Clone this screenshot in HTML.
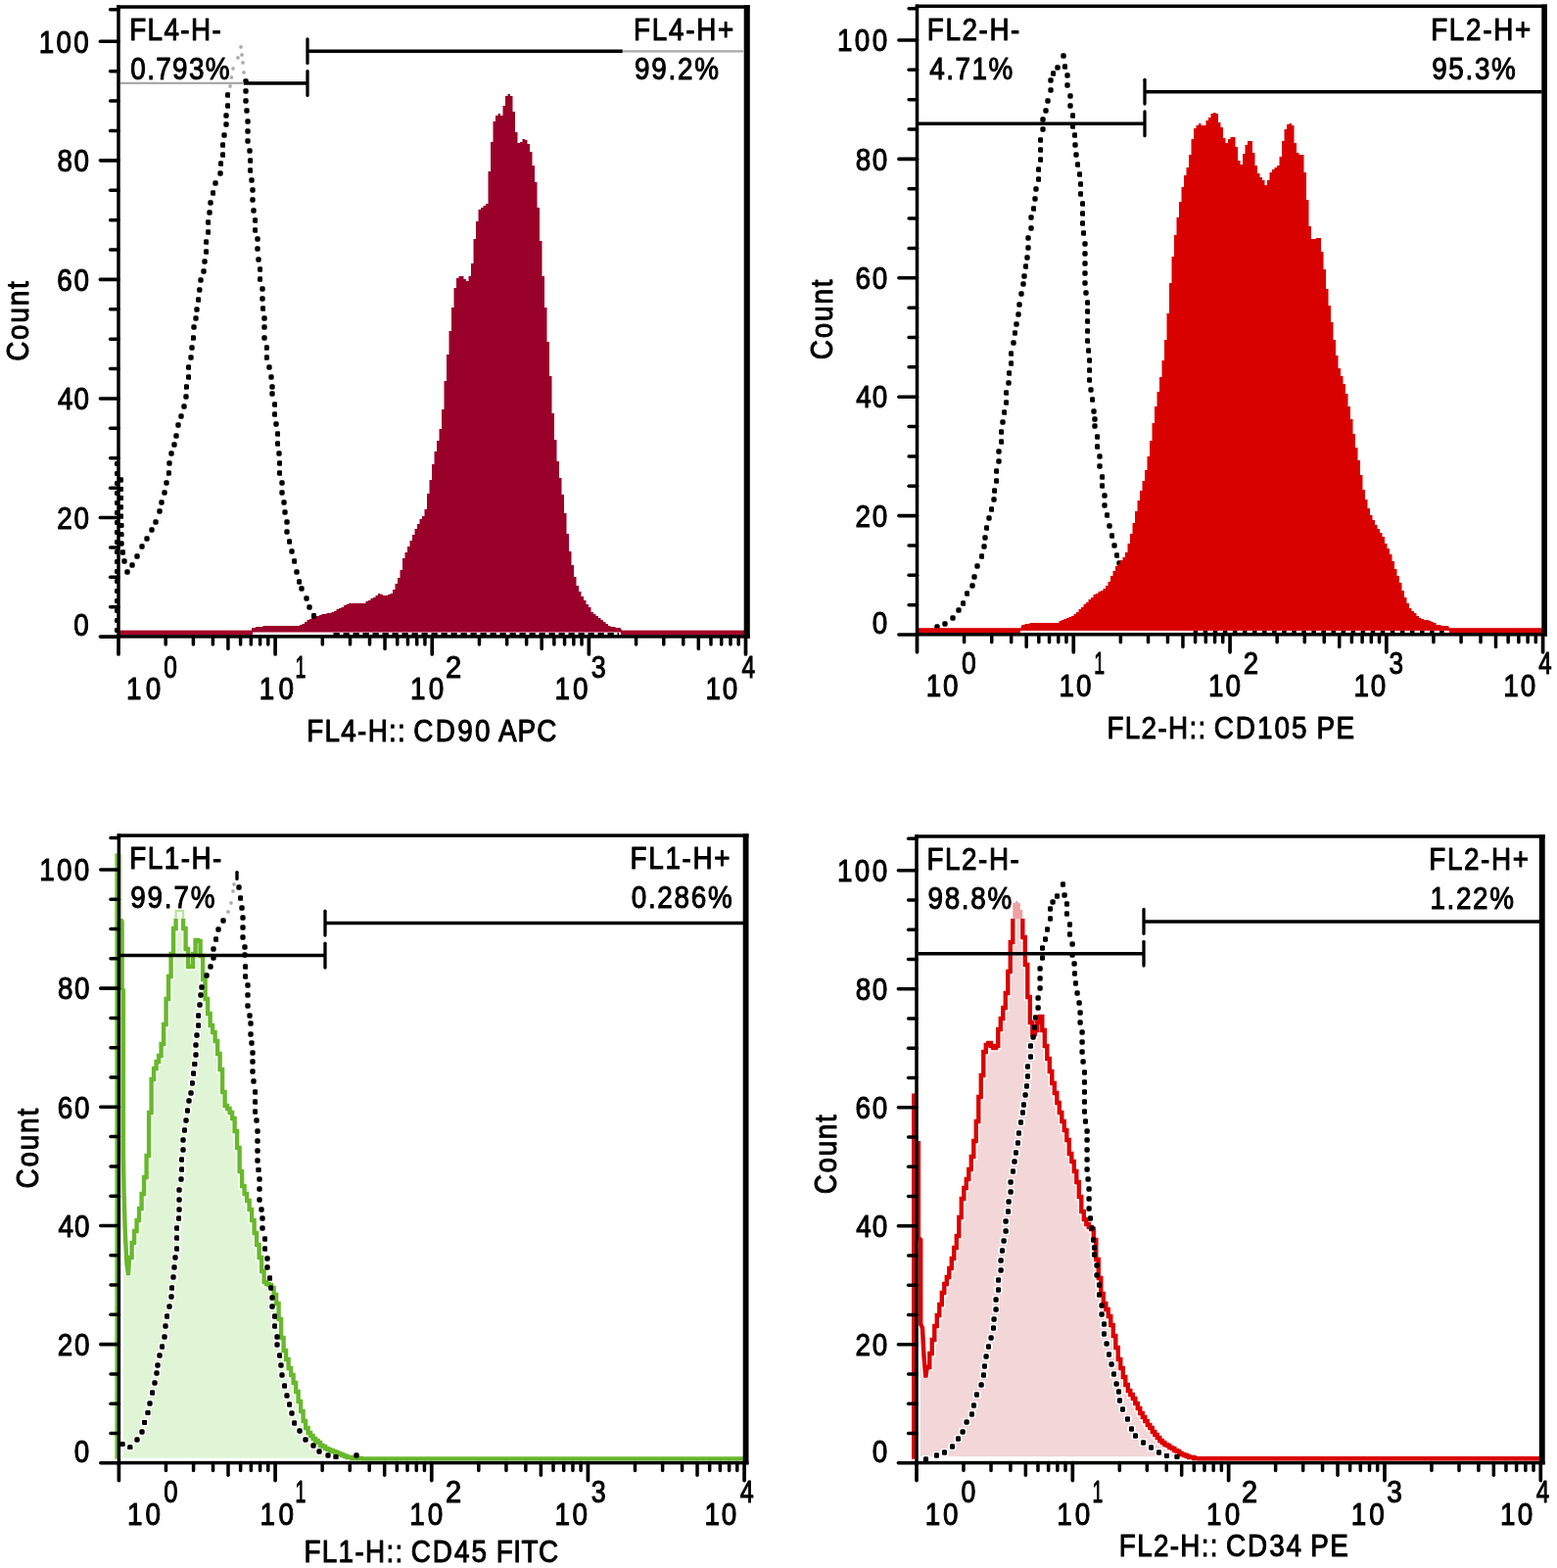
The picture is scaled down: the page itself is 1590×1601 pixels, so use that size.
<!DOCTYPE html>
<html lang="en"><head><meta charset="utf-8"><title>Flow cytometry histograms</title>
<style>html,body{margin:0;padding:0;background:#fff}svg{display:block}.t{font-family:"Liberation Sans",Arial,Helvetica,sans-serif;font-size:32px;fill:#000;stroke:#000;stroke-width:1.05;stroke-linejoin:round}</style>
</head><body>
<svg width="1590" height="1601" viewBox="0 0 1590 1601">
<rect width="1590" height="1601" fill="#fff"/>
<defs><marker id="m1" markerUnits="userSpaceOnUse" markerWidth="5.4" markerHeight="5.4" refX="2.7" refY="2.7" orient="0"><rect width="5.4" height="5.4" rx="1.7" fill="#000"/></marker><marker id="m2" markerUnits="userSpaceOnUse" markerWidth="3.3" markerHeight="3.3" refX="1.65" refY="1.65" orient="0"><rect width="3.3" height="3.3" rx="1" fill="#a9a9a9"/></marker><marker id="m3" markerUnits="userSpaceOnUse" markerWidth="5" markerHeight="5" refX="2.5" refY="2.5" orient="0"><rect width="5" height="5" rx="1.7" fill="#000"/></marker><marker id="m4" markerUnits="userSpaceOnUse" markerWidth="8.6" markerHeight="8.6" refX="4.3" refY="4.3" orient="0"><rect width="8.6" height="8.6" rx="2.6" fill="#fff" fill-opacity="0.85"/></marker></defs>
<g id="p1">
<polyline points="123.5,490 123.57,499.29 123.64,508.57 123.71,517.86 123.79,527.14 123.86,536.43 123.93,545.71 124,555 125.5,564 127,573 130,584 135,577 140,568 145,558 150,550 155,541 159,533 163,522 165,513 168,503 170,493 172.4,483 173,473 175,463 178,454 180,445 182,434 185,425 188,415 190,405 190.4,395 192.6,385 192.6,375 195,365 196,355 197.4,345 198,334 200,325 201,316 202.6,306 203.8,296 205,286 208,277 209,267 210.6,257 210.6,247 212.6,237 212.6,227 214,217 215,207 217.6,197 220,187 225,177 225.6,167 227.6,158 227.6,148 229,138 231,127 231,118 232.6,108 232.6,97" fill="none" stroke="none" marker-start="url(#m1)" marker-mid="url(#m1)" marker-end="url(#m1)"/>
<polyline points="251,83 251,93 251,103 252,113 253,124 253,134 253,144 255,154 255.6,164 255.6,174 257,184 258,194 258,204 259,215 260.6,225 260.6,235 263,244 263,254 264,265 265.6,275 265.6,285 268,295 268,305 268.6,315 270,325 270,334 270,345 272.4,355 272.4,365 275,375 277,385 278,395 278,402 280.6,413 280.6,423 282,433 283.6,443 283.6,453 285,463 285.6,473 285.6,483 288,493 288,503 290,513 291,523 293,533 293,543 295.6,553 298,563 300.6,573 303,584 305.6,594 308,601 313,611 316,620 320.6,629" fill="none" stroke="none" marker-start="url(#m1)" marker-mid="url(#m1)" marker-end="url(#m1)"/>
<polyline points="235,88 236.5,79 238,70 243,59 246,48 247,56 248,64 249,74" fill="none" stroke="none" marker-start="url(#m2)" marker-mid="url(#m2)" marker-end="url(#m2)"/>
<polyline points="119.4,473.5 119.4,483.5 119.4,493.5 119.4,503.5 119.4,513.5 119.4,523.5 119.4,533.5 119.4,543.5 119.4,553.5 119.4,563.5 119.4,573.5 119.4,583.5 119.4,593.5 119.4,603.5 119.4,613.5 119.4,623.5 119.4,633.5 119.4,643.5" fill="none" stroke="none" marker-start="url(#m3)" marker-mid="url(#m3)" marker-end="url(#m3)"/>
<rect x="121" y="643.6" width="639.7" height="4.7" fill="#a40029"/>
<polygon points="257,645.5 257,641 258.5,641 261,641 261,640 263.5,640 266,640 268.5,640 268.5,639 271,639 273.5,639 276,639 278.5,639 281,639 283.5,639 286,639 288.5,639 291,639 293.5,639 296,639 298.5,639 301,639 303.5,639 306,639 306,638 308.5,638 308.5,637 311,637 311,635 313.5,635 313.5,633 316,633 316,632 318.5,632 318.5,630 321,630 321,629 323.5,629 326,629 326,628 328.5,628 328.5,627 331,627 333.5,627 333.5,626 336,626 338.5,626 338.5,625 341,625 341,624 343.5,624 343.5,622 346,622 346,621 348.5,621 348.5,620 351,620 351,618 353.5,618 353.5,617 356,617 356,616 358.5,616 361,616 363.5,616 366,616 368.5,616 371,616 373.5,616 373.5,614 376,614 376,613 378.5,613 378.5,611 381,611 381,610 383.5,610 383.5,608 386,608 386,606 388.5,606 388.5,607 391,607 391,608 393.5,608 396,608 396,607 398.5,607 398.5,606 401,606 401,602 403.5,602 403.5,596 406,596 406,590 408.5,590 408.5,582 411,582 411,570 413.5,570 413.5,564 416,564 416,558 418.5,558 418.5,552 421,552 421,546 423.5,546 423.5,540 426,540 426,535 428.5,535 428.5,530 431,530 431,527 433.5,527 433.5,520 436,520 436,504 438.5,504 438.5,490 441,490 441,474 443.5,474 443.5,461 446,461 446,450 448.5,450 448.5,438 451,438 451,418 453.5,418 453.5,389 456,389 456,362 458.5,362 458.5,338 461,338 461,314 463.5,314 463.5,294 466,294 466,284 468.5,284 468.5,282 471,282 473.5,282 473.5,285 476,285 476,287 478.5,287 478.5,282 481,282 481,269 483.5,269 483.5,244 486,244 486,226 488.5,226 488.5,214 491,214 491,212 493.5,212 493.5,210 496,210 496,208 498.5,208 498.5,175 501,175 501,145 503.5,145 503.5,124 506,124 506,118 508.5,118 508.5,116 511,116 511,118 513.5,118 513.5,108 516,108 516,98 518.5,98 518.5,96 521,96 521,98 523.5,98 523.5,114 526,114 526,135 528.5,135 528.5,146 531,146 531,145 533.5,145 533.5,142 536,142 536,143 538.5,143 538.5,147 541,147 541,155 543.5,155 543.5,169 546,169 546,186 548.5,186 548.5,212 551,212 551,246 553.5,246 553.5,282 556,282 556,314 558.5,314 558.5,349 561,349 561,384 563.5,384 563.5,422 566,422 566,449 568.5,449 568.5,471 571,471 571,488 573.5,488 573.5,505 576,505 576,524 578.5,524 578.5,545 581,545 581,563 583.5,563 583.5,577 586,577 586,589 588.5,589 588.5,598 591,598 591,604 593.5,604 593.5,609 596,609 596,613 598.5,613 598.5,617 601,617 601,620 603.5,620 603.5,625 606,625 606,627 608.5,627 608.5,629 611,629 611,631 613.5,631 613.5,633 616,633 616,635 618.5,635 618.5,637 621,637 621,639 623.5,639 623.5,640 626,640 628.5,640 628.5,641 631,641 633.5,641 635,643.6 635,645.5" fill="#99002a"/>
<rect x="258" y="645.5" width="376" height="3.7" fill="#fff"/>
<line x1="340.5" y1="647.6" x2="632" y2="647.6" stroke="#000" stroke-width="3.4" stroke-dasharray="6.3 3.7"/>
<polyline points="320.6,629 320.6,629" fill="none" stroke="none" marker-start="url(#m1)"/>
<rect x="119.25" y="5.3" width="646.55" height="3.5" fill="#000"/>
<rect x="119.25" y="5.3" width="3.5" height="646.35" fill="#000"/>
<rect x="759.7" y="5.3" width="6.1" height="646.35" fill="#000"/>
<rect x="119.25" y="648.15" width="646.55" height="3.5" fill="#000"/>
<line x1="102.4" y1="650.1" x2="121" y2="650.1" stroke="#000" stroke-width="3.6" stroke-linecap="round"/>
<text class="t" transform="translate(75.37 649) scale(0.8712 1.0000)">0</text>
<line x1="112.6" y1="619.71" x2="121" y2="619.71" stroke="#000" stroke-width="3.5" stroke-linecap="round"/>
<line x1="112.6" y1="589.32" x2="121" y2="589.32" stroke="#000" stroke-width="3.5" stroke-linecap="round"/>
<line x1="112.6" y1="558.93" x2="121" y2="558.93" stroke="#000" stroke-width="3.5" stroke-linecap="round"/>
<line x1="102.4" y1="528.54" x2="121" y2="528.54" stroke="#000" stroke-width="3.6" stroke-linecap="round"/>
<text class="t" transform="translate(58.24 539.74) scale(0.8700 1.0000)" letter-spacing="1.96">20</text>
<line x1="112.6" y1="498.15" x2="121" y2="498.15" stroke="#000" stroke-width="3.5" stroke-linecap="round"/>
<line x1="112.6" y1="467.76" x2="121" y2="467.76" stroke="#000" stroke-width="3.5" stroke-linecap="round"/>
<line x1="112.6" y1="437.37" x2="121" y2="437.37" stroke="#000" stroke-width="3.5" stroke-linecap="round"/>
<line x1="102.4" y1="406.98" x2="121" y2="406.98" stroke="#000" stroke-width="3.6" stroke-linecap="round"/>
<text class="t" transform="translate(59 418.18) scale(0.8700 1.0000)" letter-spacing="1.08">40</text>
<line x1="112.6" y1="376.59" x2="121" y2="376.59" stroke="#000" stroke-width="3.5" stroke-linecap="round"/>
<line x1="112.6" y1="346.2" x2="121" y2="346.2" stroke="#000" stroke-width="3.5" stroke-linecap="round"/>
<line x1="112.6" y1="315.81" x2="121" y2="315.81" stroke="#000" stroke-width="3.5" stroke-linecap="round"/>
<line x1="102.4" y1="285.42" x2="121" y2="285.42" stroke="#000" stroke-width="3.6" stroke-linecap="round"/>
<text class="t" transform="translate(58.24 296.62) scale(0.8700 1.0000)" letter-spacing="1.96">60</text>
<line x1="112.6" y1="255.03" x2="121" y2="255.03" stroke="#000" stroke-width="3.5" stroke-linecap="round"/>
<line x1="112.6" y1="224.64" x2="121" y2="224.64" stroke="#000" stroke-width="3.5" stroke-linecap="round"/>
<line x1="112.6" y1="194.25" x2="121" y2="194.25" stroke="#000" stroke-width="3.5" stroke-linecap="round"/>
<line x1="102.4" y1="163.86" x2="121" y2="163.86" stroke="#000" stroke-width="3.6" stroke-linecap="round"/>
<text class="t" transform="translate(58.46 175.06) scale(0.8700 1.0000)" letter-spacing="1.71">80</text>
<line x1="112.6" y1="133.47" x2="121" y2="133.47" stroke="#000" stroke-width="3.5" stroke-linecap="round"/>
<line x1="112.6" y1="103.08" x2="121" y2="103.08" stroke="#000" stroke-width="3.5" stroke-linecap="round"/>
<line x1="112.6" y1="72.69" x2="121" y2="72.69" stroke="#000" stroke-width="3.5" stroke-linecap="round"/>
<line x1="102.4" y1="42.3" x2="121" y2="42.3" stroke="#000" stroke-width="3.6" stroke-linecap="round"/>
<text class="t" transform="translate(39.79 53.5) scale(0.8700 1.0000)" letter-spacing="2.65">100</text>
<line x1="112.6" y1="9.7" x2="121" y2="9.7" stroke="#000" stroke-width="3.5" stroke-linecap="round"/>
<line x1="121" y1="649.9" x2="121" y2="667.9" stroke="#000" stroke-width="3.7" stroke-linecap="round"/>
<line x1="169.2" y1="649.9" x2="169.2" y2="657.9" stroke="#000" stroke-width="3.5" stroke-linecap="round"/>
<line x1="197.4" y1="649.9" x2="197.4" y2="657.9" stroke="#000" stroke-width="3.5" stroke-linecap="round"/>
<line x1="217.4" y1="649.9" x2="217.4" y2="657.9" stroke="#000" stroke-width="3.5" stroke-linecap="round"/>
<line x1="232.92" y1="649.9" x2="232.92" y2="662.5" stroke="#000" stroke-width="3.5" stroke-linecap="round"/>
<line x1="245.6" y1="649.9" x2="245.6" y2="657.9" stroke="#000" stroke-width="3.5" stroke-linecap="round"/>
<line x1="256.32" y1="649.9" x2="256.32" y2="657.9" stroke="#000" stroke-width="3.5" stroke-linecap="round"/>
<line x1="265.61" y1="649.9" x2="265.61" y2="657.9" stroke="#000" stroke-width="3.5" stroke-linecap="round"/>
<line x1="273.8" y1="649.9" x2="273.8" y2="657.9" stroke="#000" stroke-width="3.5" stroke-linecap="round"/>
<line x1="281.12" y1="649.9" x2="281.12" y2="667.9" stroke="#000" stroke-width="3.7" stroke-linecap="round"/>
<line x1="329.33" y1="649.9" x2="329.33" y2="657.9" stroke="#000" stroke-width="3.5" stroke-linecap="round"/>
<line x1="357.52" y1="649.9" x2="357.52" y2="657.9" stroke="#000" stroke-width="3.5" stroke-linecap="round"/>
<line x1="377.53" y1="649.9" x2="377.53" y2="657.9" stroke="#000" stroke-width="3.5" stroke-linecap="round"/>
<line x1="393.05" y1="649.9" x2="393.05" y2="662.5" stroke="#000" stroke-width="3.5" stroke-linecap="round"/>
<line x1="405.73" y1="649.9" x2="405.73" y2="657.9" stroke="#000" stroke-width="3.5" stroke-linecap="round"/>
<line x1="416.45" y1="649.9" x2="416.45" y2="657.9" stroke="#000" stroke-width="3.5" stroke-linecap="round"/>
<line x1="425.73" y1="649.9" x2="425.73" y2="657.9" stroke="#000" stroke-width="3.5" stroke-linecap="round"/>
<line x1="433.92" y1="649.9" x2="433.92" y2="657.9" stroke="#000" stroke-width="3.5" stroke-linecap="round"/>
<line x1="441.25" y1="649.9" x2="441.25" y2="667.9" stroke="#000" stroke-width="3.7" stroke-linecap="round"/>
<line x1="489.45" y1="649.9" x2="489.45" y2="657.9" stroke="#000" stroke-width="3.5" stroke-linecap="round"/>
<line x1="517.65" y1="649.9" x2="517.65" y2="657.9" stroke="#000" stroke-width="3.5" stroke-linecap="round"/>
<line x1="537.65" y1="649.9" x2="537.65" y2="657.9" stroke="#000" stroke-width="3.5" stroke-linecap="round"/>
<line x1="553.17" y1="649.9" x2="553.17" y2="662.5" stroke="#000" stroke-width="3.5" stroke-linecap="round"/>
<line x1="565.85" y1="649.9" x2="565.85" y2="657.9" stroke="#000" stroke-width="3.5" stroke-linecap="round"/>
<line x1="576.57" y1="649.9" x2="576.57" y2="657.9" stroke="#000" stroke-width="3.5" stroke-linecap="round"/>
<line x1="585.86" y1="649.9" x2="585.86" y2="657.9" stroke="#000" stroke-width="3.5" stroke-linecap="round"/>
<line x1="594.05" y1="649.9" x2="594.05" y2="657.9" stroke="#000" stroke-width="3.5" stroke-linecap="round"/>
<line x1="601.38" y1="649.9" x2="601.38" y2="667.9" stroke="#000" stroke-width="3.7" stroke-linecap="round"/>
<line x1="649.58" y1="649.9" x2="649.58" y2="657.9" stroke="#000" stroke-width="3.5" stroke-linecap="round"/>
<line x1="677.77" y1="649.9" x2="677.77" y2="657.9" stroke="#000" stroke-width="3.5" stroke-linecap="round"/>
<line x1="697.78" y1="649.9" x2="697.78" y2="657.9" stroke="#000" stroke-width="3.5" stroke-linecap="round"/>
<line x1="713.3" y1="649.9" x2="713.3" y2="662.5" stroke="#000" stroke-width="3.5" stroke-linecap="round"/>
<line x1="725.98" y1="649.9" x2="725.98" y2="657.9" stroke="#000" stroke-width="3.5" stroke-linecap="round"/>
<line x1="736.7" y1="649.9" x2="736.7" y2="657.9" stroke="#000" stroke-width="3.5" stroke-linecap="round"/>
<line x1="745.98" y1="649.9" x2="745.98" y2="657.9" stroke="#000" stroke-width="3.5" stroke-linecap="round"/>
<line x1="754.17" y1="649.9" x2="754.17" y2="657.9" stroke="#000" stroke-width="3.5" stroke-linecap="round"/>
<line x1="761.5" y1="649.9" x2="761.5" y2="667.9" stroke="#000" stroke-width="3.7" stroke-linecap="round"/>
<text class="t" transform="translate(128.99 713.7) scale(0.8700 1.0000)" letter-spacing="4.78">10</text>
<text class="t" transform="translate(167.34 691.7) scale(0.7669 1.0000)">0</text>
<text class="t" transform="translate(264.79 713.7) scale(0.8700 1.0000)" letter-spacing="4.78">10</text>
<text class="t" transform="translate(301.47 691.7) scale(0.6097 1.0000)">1</text>
<text class="t" transform="translate(419.09 713.7) scale(0.8700 1.0000)" letter-spacing="3.74">10</text>
<text class="t" transform="translate(455 691.7) scale(0.9123 1.0000)">2</text>
<text class="t" transform="translate(566.49 713.7) scale(0.8700 1.0000)" letter-spacing="3.51">10</text>
<text class="t" transform="translate(603.69 691.7) scale(0.8408 1.0000)">3</text>
<text class="t" transform="translate(720.49 713.7) scale(0.8700 1.0000)" letter-spacing="2.13">10</text>
<text class="t" transform="translate(757.43 691.7) scale(0.7686 1.0000)">4</text>
<text class="t" xml:space="preserve" transform="translate(0 756.7) scale(0.8700 1.0000)"><tspan x="359.97" letter-spacing="1.51">FL4-H:: </tspan><tspan x="485.45" letter-spacing="2.71">CD90 </tspan><tspan x="585.11" letter-spacing="1.13">APC</tspan></text>
<text class="t" transform="translate(28.5 368.86) rotate(-90) scale(0.8700 1.0000)" letter-spacing="2.14">Count</text>
<line x1="248.9" y1="85" x2="314" y2="85" stroke="#000" stroke-width="3.5" stroke-linecap="butt"/>
<line x1="314" y1="72.6" x2="314" y2="97.4" stroke="#000" stroke-width="3.3" stroke-linecap="round"/>
<line x1="314" y1="52.2" x2="635.8" y2="52.2" stroke="#000" stroke-width="3.5" stroke-linecap="butt"/>
<line x1="314" y1="39.8" x2="314" y2="64.6" stroke="#000" stroke-width="3.3" stroke-linecap="round"/>
<line x1="123" y1="84.9" x2="248.9" y2="84.9" stroke="#a9a9a9" stroke-width="2.2" stroke-linecap="butt"/>
<line x1="635.8" y1="52.3" x2="759.7" y2="52.3" stroke="#a9a9a9" stroke-width="2.2" stroke-linecap="butt"/>
<text class="t" transform="translate(132.17 40.9) scale(0.8700 1.0000)" letter-spacing="1.61">FL4-H-</text>
<text class="t" transform="translate(133.37 81.4) scale(0.8700 1.0000)" letter-spacing="1.55">0.793%</text>
<text class="t" transform="translate(646.97 40.9) scale(0.8700 1.0000)" letter-spacing="2.01">FL4-H+</text>
<text class="t" transform="translate(647.95 81.4) scale(0.8700 1.0000)" letter-spacing="2.02">99.2%</text>
</g>
<g id="p2">
<polyline points="957,640 965,637 973,631 979,623 983.6,616 987.6,606 993,598 995,589 998,578 1002.6,568 1005,558 1006,549 1007.6,539 1010,529 1012.6,520 1015,510 1015.6,501 1017.6,491 1017.6,481 1020,471 1020,461 1022.6,451 1022.6,441 1024,431 1025.6,421 1027.6,411 1027.6,401 1030,391 1030.6,381 1032.6,371 1032.6,361 1035,350 1036.5,340 1038,331 1040,321 1041,311 1043,300 1045,290 1046,282 1047.6,272 1049,263 1050,253 1050,243 1053,233 1053,222 1055.6,213 1057,203 1058,193 1060.6,183 1060.6,173 1062.6,163 1062.6,153 1062.6,143 1065,132 1065,122 1068,113 1070,103 1073,92 1073,82 1075.6,75 1080,69 1086,57 1087.6,68 1090,77 1090,87 1093,98 1093,108 1095.6,118 1095.6,129 1097.6,138 1098,148 1099,158 1100.6,168 1102.6,178 1103.6,188 1103.6,198 1105.6,208 1105.6,218 1105.6,228 1106.6,238 1108,249 1108,259 1108,269 1108,279 1108,289 1109,299 1110.6,309 1110.6,318 1110.6,328 1110.6,338 1110.6,348 1111.6,358 1112.6,368 1112.6,378 1112.6,388 1114,398 1115.6,408 1117,420 1118,428 1118,435 1120.6,446 1120.6,456 1123,466 1123,476 1125.6,487 1125.6,496 1128,506 1128,516 1130.6,526 1133,537 1135.6,547 1138,557 1140.6,567 1143,575" fill="none" stroke="none" marker-start="url(#m1)" marker-mid="url(#m1)" marker-end="url(#m1)"/>
<rect x="936.5" y="641.2" width="638.8" height="4.8" fill="#d90000"/>
<polygon points="1042,643.9 1043,639 1044,638 1046.5,638 1046.5,637 1049,637 1051.5,637 1051.5,636 1054,636 1056.5,636 1059,636 1061.5,636 1064,636 1066.5,636 1069,636 1071.5,636 1074,636 1076.5,636 1079,636 1081.5,636 1081.5,634 1084,634 1084,633 1086.5,633 1086.5,632 1089,632 1089,631 1091.5,631 1091.5,630 1094,630 1094,629 1096.5,629 1096.5,627 1099,627 1099,625 1101.5,625 1101.5,622 1104,622 1104,620 1106.5,620 1106.5,617 1109,617 1109,615 1111.5,615 1111.5,612 1114,612 1114,610 1116.5,610 1116.5,607 1119,607 1119,606 1121.5,606 1121.5,604 1124,604 1124,603 1126.5,603 1126.5,601 1129,601 1129,598 1131.5,598 1131.5,594 1134,594 1134,588 1136.5,588 1136.5,583 1139,583 1139,578 1141.5,578 1141.5,576 1144,576 1144,572 1146.5,572 1146.5,569 1149,569 1149,564 1151.5,564 1151.5,555 1154,555 1154,545 1156.5,545 1156.5,534 1159,534 1159,522 1161.5,522 1161.5,511 1164,511 1164,501 1166.5,501 1166.5,491 1169,491 1169,480 1171.5,480 1171.5,466 1174,466 1174,450 1176.5,450 1176.5,432 1179,432 1179,415 1181.5,415 1181.5,400 1184,400 1184,385 1186.5,385 1186.5,368 1189,368 1189,347 1191.5,347 1191.5,320 1194,320 1194,289 1196.5,289 1196.5,262 1199,262 1199,240 1201.5,240 1201.5,222 1204,222 1204,206 1206.5,206 1206.5,191 1209,191 1209,179 1211.5,179 1211.5,171 1214,171 1214,158 1216.5,158 1216.5,142 1219,142 1219,131 1221.5,131 1221.5,128 1224,128 1224,126 1226.5,126 1226.5,128 1229,128 1231.5,128 1231.5,123 1234,123 1234,120 1236.5,120 1236.5,116 1239,116 1239,115 1241.5,115 1241.5,116 1244,116 1244,125 1246.5,125 1246.5,130 1249,130 1249,141 1251.5,141 1251.5,146 1254,146 1254,142 1256.5,142 1256.5,140 1259,140 1261.5,140 1261.5,150 1264,150 1264,164 1266.5,164 1266.5,168 1269,168 1269,157 1271.5,157 1271.5,148 1274,148 1274,144 1276.5,144 1279,144 1279,156 1281.5,156 1281.5,169 1284,169 1284,177 1286.5,177 1286.5,181 1289,181 1289,184 1291.5,184 1291.5,189 1294,189 1294,184 1296.5,184 1296.5,176 1299,176 1299,173 1301.5,173 1301.5,171 1304,171 1304,169 1306.5,169 1306.5,160 1309,160 1309,144 1311.5,144 1311.5,132 1314,132 1314,127 1316.5,127 1316.5,126 1319,126 1319,128 1321.5,128 1321.5,146 1324,146 1324,156 1326.5,156 1326.5,158 1329,158 1331.5,158 1331.5,176 1334,176 1334,204 1336.5,204 1336.5,231 1339,231 1339,244 1341.5,244 1344,244 1344,243 1346.5,243 1349,243 1349,257 1351.5,257 1351.5,275 1354,275 1354,295 1356.5,295 1356.5,312 1359,312 1359,329 1361.5,329 1361.5,347 1364,347 1364,363 1366.5,363 1366.5,376 1369,376 1369,384 1371.5,384 1371.5,392 1374,392 1374,402 1376.5,402 1376.5,415 1379,415 1379,428 1381.5,428 1381.5,443 1384,443 1384,457 1386.5,457 1386.5,470 1389,470 1389,485 1391.5,485 1391.5,500 1394,500 1394,510 1396.5,510 1396.5,519 1399,519 1399,526 1401.5,526 1401.5,531 1404,531 1404,536 1406.5,536 1406.5,540 1409,540 1409,544 1411.5,544 1411.5,548 1414,548 1414,555 1416.5,555 1416.5,560 1419,560 1419,566 1421.5,566 1421.5,573 1424,573 1424,581 1426.5,581 1426.5,588 1429,588 1429,595 1431.5,595 1431.5,603 1434,603 1434,610 1436.5,610 1436.5,616 1439,616 1439,621 1441.5,621 1441.5,624 1444,624 1444,626 1446.5,626 1446.5,629 1449,629 1449,631 1451.5,631 1451.5,632 1454,632 1454,633 1456.5,633 1459,633 1459,634 1461.5,634 1461.5,635 1464,635 1464,636 1466.5,636 1466.5,638 1469,638 1471.5,638 1471.5,639 1474,639 1476.5,639 1479,639 1480,641 1480,643.9" fill="#d90000"/>
<rect x="1042" y="643.9" width="438" height="2.9" fill="#fff"/>
<line x1="1218.6" y1="645.5" x2="1476" y2="645.5" stroke="#000" stroke-width="3.0" stroke-dasharray="4.6 5.46"/>
<rect x="934.75" y="4.55" width="645.15" height="3.5" fill="#000"/>
<rect x="934.75" y="4.55" width="3.5" height="645" fill="#000"/>
<rect x="1574.3" y="4.55" width="5.6" height="645" fill="#000"/>
<rect x="934.75" y="646.05" width="645.15" height="3.5" fill="#000"/>
<line x1="917.9" y1="648" x2="936.5" y2="648" stroke="#000" stroke-width="3.6" stroke-linecap="round"/>
<text class="t" transform="translate(890.67 646.9) scale(0.8712 1.0000)">0</text>
<line x1="928.1" y1="617.65" x2="936.5" y2="617.65" stroke="#000" stroke-width="3.5" stroke-linecap="round"/>
<line x1="928.1" y1="587.3" x2="936.5" y2="587.3" stroke="#000" stroke-width="3.5" stroke-linecap="round"/>
<line x1="928.1" y1="556.95" x2="936.5" y2="556.95" stroke="#000" stroke-width="3.5" stroke-linecap="round"/>
<line x1="917.9" y1="526.6" x2="936.5" y2="526.6" stroke="#000" stroke-width="3.6" stroke-linecap="round"/>
<text class="t" transform="translate(873.54 537.8) scale(0.8700 1.0000)" letter-spacing="1.96">20</text>
<line x1="928.1" y1="496.25" x2="936.5" y2="496.25" stroke="#000" stroke-width="3.5" stroke-linecap="round"/>
<line x1="928.1" y1="465.9" x2="936.5" y2="465.9" stroke="#000" stroke-width="3.5" stroke-linecap="round"/>
<line x1="928.1" y1="435.55" x2="936.5" y2="435.55" stroke="#000" stroke-width="3.5" stroke-linecap="round"/>
<line x1="917.9" y1="405.2" x2="936.5" y2="405.2" stroke="#000" stroke-width="3.6" stroke-linecap="round"/>
<text class="t" transform="translate(874.3 416.4) scale(0.8700 1.0000)" letter-spacing="1.08">40</text>
<line x1="928.1" y1="374.85" x2="936.5" y2="374.85" stroke="#000" stroke-width="3.5" stroke-linecap="round"/>
<line x1="928.1" y1="344.5" x2="936.5" y2="344.5" stroke="#000" stroke-width="3.5" stroke-linecap="round"/>
<line x1="928.1" y1="314.15" x2="936.5" y2="314.15" stroke="#000" stroke-width="3.5" stroke-linecap="round"/>
<line x1="917.9" y1="283.8" x2="936.5" y2="283.8" stroke="#000" stroke-width="3.6" stroke-linecap="round"/>
<text class="t" transform="translate(873.54 295) scale(0.8700 1.0000)" letter-spacing="1.96">60</text>
<line x1="928.1" y1="253.45" x2="936.5" y2="253.45" stroke="#000" stroke-width="3.5" stroke-linecap="round"/>
<line x1="928.1" y1="223.1" x2="936.5" y2="223.1" stroke="#000" stroke-width="3.5" stroke-linecap="round"/>
<line x1="928.1" y1="192.75" x2="936.5" y2="192.75" stroke="#000" stroke-width="3.5" stroke-linecap="round"/>
<line x1="917.9" y1="162.4" x2="936.5" y2="162.4" stroke="#000" stroke-width="3.6" stroke-linecap="round"/>
<text class="t" transform="translate(873.76 173.6) scale(0.8700 1.0000)" letter-spacing="1.71">80</text>
<line x1="928.1" y1="132.05" x2="936.5" y2="132.05" stroke="#000" stroke-width="3.5" stroke-linecap="round"/>
<line x1="928.1" y1="101.7" x2="936.5" y2="101.7" stroke="#000" stroke-width="3.5" stroke-linecap="round"/>
<line x1="928.1" y1="71.35" x2="936.5" y2="71.35" stroke="#000" stroke-width="3.5" stroke-linecap="round"/>
<line x1="917.9" y1="41" x2="936.5" y2="41" stroke="#000" stroke-width="3.6" stroke-linecap="round"/>
<text class="t" transform="translate(855.09 52.2) scale(0.8700 1.0000)" letter-spacing="2.65">100</text>
<line x1="928.1" y1="8.8" x2="936.5" y2="8.8" stroke="#000" stroke-width="3.5" stroke-linecap="round"/>
<line x1="936.5" y1="647.8" x2="936.5" y2="665.8" stroke="#000" stroke-width="3.7" stroke-linecap="round"/>
<line x1="984.6" y1="647.8" x2="984.6" y2="655.8" stroke="#000" stroke-width="3.5" stroke-linecap="round"/>
<line x1="1012.73" y1="647.8" x2="1012.73" y2="655.8" stroke="#000" stroke-width="3.5" stroke-linecap="round"/>
<line x1="1032.69" y1="647.8" x2="1032.69" y2="655.8" stroke="#000" stroke-width="3.5" stroke-linecap="round"/>
<line x1="1048.18" y1="647.8" x2="1048.18" y2="660.4" stroke="#000" stroke-width="3.5" stroke-linecap="round"/>
<line x1="1060.83" y1="647.8" x2="1060.83" y2="655.8" stroke="#000" stroke-width="3.5" stroke-linecap="round"/>
<line x1="1071.53" y1="647.8" x2="1071.53" y2="655.8" stroke="#000" stroke-width="3.5" stroke-linecap="round"/>
<line x1="1080.79" y1="647.8" x2="1080.79" y2="655.8" stroke="#000" stroke-width="3.5" stroke-linecap="round"/>
<line x1="1088.96" y1="647.8" x2="1088.96" y2="655.8" stroke="#000" stroke-width="3.5" stroke-linecap="round"/>
<line x1="1096.28" y1="647.8" x2="1096.28" y2="665.8" stroke="#000" stroke-width="3.7" stroke-linecap="round"/>
<line x1="1144.37" y1="647.8" x2="1144.37" y2="655.8" stroke="#000" stroke-width="3.5" stroke-linecap="round"/>
<line x1="1172.51" y1="647.8" x2="1172.51" y2="655.8" stroke="#000" stroke-width="3.5" stroke-linecap="round"/>
<line x1="1192.47" y1="647.8" x2="1192.47" y2="655.8" stroke="#000" stroke-width="3.5" stroke-linecap="round"/>
<line x1="1207.95" y1="647.8" x2="1207.95" y2="660.4" stroke="#000" stroke-width="3.5" stroke-linecap="round"/>
<line x1="1220.6" y1="647.8" x2="1220.6" y2="655.8" stroke="#000" stroke-width="3.5" stroke-linecap="round"/>
<line x1="1231.3" y1="647.8" x2="1231.3" y2="655.8" stroke="#000" stroke-width="3.5" stroke-linecap="round"/>
<line x1="1240.57" y1="647.8" x2="1240.57" y2="655.8" stroke="#000" stroke-width="3.5" stroke-linecap="round"/>
<line x1="1248.74" y1="647.8" x2="1248.74" y2="655.8" stroke="#000" stroke-width="3.5" stroke-linecap="round"/>
<line x1="1256.05" y1="647.8" x2="1256.05" y2="665.8" stroke="#000" stroke-width="3.7" stroke-linecap="round"/>
<line x1="1304.15" y1="647.8" x2="1304.15" y2="655.8" stroke="#000" stroke-width="3.5" stroke-linecap="round"/>
<line x1="1332.28" y1="647.8" x2="1332.28" y2="655.8" stroke="#000" stroke-width="3.5" stroke-linecap="round"/>
<line x1="1352.24" y1="647.8" x2="1352.24" y2="655.8" stroke="#000" stroke-width="3.5" stroke-linecap="round"/>
<line x1="1367.73" y1="647.8" x2="1367.73" y2="660.4" stroke="#000" stroke-width="3.5" stroke-linecap="round"/>
<line x1="1380.38" y1="647.8" x2="1380.38" y2="655.8" stroke="#000" stroke-width="3.5" stroke-linecap="round"/>
<line x1="1391.08" y1="647.8" x2="1391.08" y2="655.8" stroke="#000" stroke-width="3.5" stroke-linecap="round"/>
<line x1="1400.34" y1="647.8" x2="1400.34" y2="655.8" stroke="#000" stroke-width="3.5" stroke-linecap="round"/>
<line x1="1408.51" y1="647.8" x2="1408.51" y2="655.8" stroke="#000" stroke-width="3.5" stroke-linecap="round"/>
<line x1="1415.82" y1="647.8" x2="1415.82" y2="665.8" stroke="#000" stroke-width="3.7" stroke-linecap="round"/>
<line x1="1463.92" y1="647.8" x2="1463.92" y2="655.8" stroke="#000" stroke-width="3.5" stroke-linecap="round"/>
<line x1="1492.06" y1="647.8" x2="1492.06" y2="655.8" stroke="#000" stroke-width="3.5" stroke-linecap="round"/>
<line x1="1512.02" y1="647.8" x2="1512.02" y2="655.8" stroke="#000" stroke-width="3.5" stroke-linecap="round"/>
<line x1="1527.5" y1="647.8" x2="1527.5" y2="660.4" stroke="#000" stroke-width="3.5" stroke-linecap="round"/>
<line x1="1540.15" y1="647.8" x2="1540.15" y2="655.8" stroke="#000" stroke-width="3.5" stroke-linecap="round"/>
<line x1="1550.85" y1="647.8" x2="1550.85" y2="655.8" stroke="#000" stroke-width="3.5" stroke-linecap="round"/>
<line x1="1560.12" y1="647.8" x2="1560.12" y2="655.8" stroke="#000" stroke-width="3.5" stroke-linecap="round"/>
<line x1="1568.29" y1="647.8" x2="1568.29" y2="655.8" stroke="#000" stroke-width="3.5" stroke-linecap="round"/>
<line x1="1575.6" y1="647.8" x2="1575.6" y2="665.8" stroke="#000" stroke-width="3.7" stroke-linecap="round"/>
<text class="t" transform="translate(945.79 711.4) scale(0.8700 1.0000)" letter-spacing="2.13">10</text>
<text class="t" transform="translate(981.9 688.3) scale(0.8282 1.0000)">0</text>
<text class="t" transform="translate(1081.59 711.4) scale(0.8700 1.0000)" letter-spacing="2.25">10</text>
<text class="t" transform="translate(1117.17 688.3) scale(0.6097 1.0000)">1</text>
<text class="t" transform="translate(1234.09 711.4) scale(0.8700 1.0000)" letter-spacing="2.13">10</text>
<text class="t" transform="translate(1269.85 688.3) scale(0.8612 1.0000)">2</text>
<text class="t" transform="translate(1382.39 711.4) scale(0.8700 1.0000)" letter-spacing="2.13">10</text>
<text class="t" transform="translate(1418.41 688.3) scale(0.8161 1.0000)">3</text>
<text class="t" transform="translate(1535.19 711.4) scale(0.8700 1.0000)" letter-spacing="2.25">10</text>
<text class="t" transform="translate(1571.23 688.3) scale(0.7511 1.0000)">4</text>
<text class="t" xml:space="preserve" transform="translate(0 753.9) scale(0.8700 1.0000)"><tspan x="1299.39" letter-spacing="1.53">FL2-H:: </tspan><tspan x="1424.88" letter-spacing="2.39">CD105 </tspan><tspan x="1545.37" letter-spacing="1.69">PE</tspan></text>
<text class="t" transform="translate(849.7 367.26) rotate(-90) scale(0.8700 1.0000)" letter-spacing="2.14">Count</text>
<line x1="938" y1="126.3" x2="1169" y2="126.3" stroke="#000" stroke-width="3.5" stroke-linecap="butt"/>
<line x1="1169" y1="113.9" x2="1169" y2="138.7" stroke="#000" stroke-width="3.3" stroke-linecap="round"/>
<line x1="1169" y1="93.7" x2="1574.5" y2="93.7" stroke="#000" stroke-width="3.5" stroke-linecap="butt"/>
<line x1="1169" y1="81.3" x2="1169" y2="106.1" stroke="#000" stroke-width="3.3" stroke-linecap="round"/>
<text class="t" transform="translate(946.87 40.6) scale(0.8700 1.0000)" letter-spacing="1.82">FL2-H-</text>
<text class="t" transform="translate(949.2 80.8) scale(0.8700 1.0000)" letter-spacing="1.75">4.71%</text>
<text class="t" transform="translate(1461.17 40.6) scale(0.8700 1.0000)" letter-spacing="1.94">FL2-H+</text>
<text class="t" transform="translate(1462.15 80.8) scale(0.8700 1.0000)" letter-spacing="1.93">95.3%</text>
</g>
<g id="p3">
<polygon points="125.9,1488.7 125.9,1011 125.9,1178 126.6,1218 127.8,1258 129.4,1290 131,1302 132.1,1284 134.6,1284 134.6,1269 137.1,1269 137.1,1257 139.6,1257 139.6,1246 142.1,1246 142.1,1234 144.6,1234 144.6,1219 147.1,1219 147.1,1202 149.6,1202 149.6,1180 152.1,1180 152.1,1136 154.6,1136 154.6,1102 157.1,1102 157.1,1091 159.6,1091 159.6,1084 162.1,1084 162.1,1078 164.6,1078 164.6,1066 167.1,1066 167.1,1046 169.6,1046 169.6,1020 172.1,1020 172.1,997 174.6,997 174.6,974 177.1,974 177.1,948 179.6,948 179.6,930 182.1,930 184.6,930 187.1,930 187.1,948 189.6,948 189.6,969 192.1,969 192.1,987 194.6,987 197.1,987 197.1,974 199.6,974 199.6,960 202.1,960 202.1,961 204.6,961 204.6,976 207.1,976 207.1,1000 209.6,1000 209.6,1020 212.1,1020 212.1,1035 214.6,1035 214.6,1047 217.1,1047 217.1,1054 219.6,1054 219.6,1063 222.1,1063 222.1,1076 224.6,1076 224.6,1092 227.1,1092 227.1,1115 229.6,1115 229.6,1129 232.1,1129 232.1,1132 234.6,1132 234.6,1136 237.1,1136 237.1,1142 239.6,1142 239.6,1155 242.1,1155 242.1,1172 244.6,1172 244.6,1196 247.1,1196 247.1,1211 249.6,1211 249.6,1219 252.1,1219 252.1,1226 254.6,1226 254.6,1235 257.1,1235 257.1,1246 259.6,1246 259.6,1259 262.1,1259 262.1,1271 264.6,1271 264.6,1284 267.1,1284 267.1,1298 269.6,1298 269.6,1309 272.1,1309 272.1,1311 274.6,1311 274.6,1312 277.1,1312 277.1,1315 279.6,1315 279.6,1322 282.1,1322 282.1,1331 284.6,1331 284.6,1347 287.1,1347 287.1,1366 289.6,1366 289.6,1379 292.1,1379 292.1,1388 294.6,1388 294.6,1397 297.1,1397 297.1,1404 299.6,1404 299.6,1412 302.1,1412 302.1,1421 304.6,1421 304.6,1431 307.1,1431 307.1,1441 309.6,1441 309.6,1451 312.1,1451 312.1,1458 314.6,1458 314.6,1463 317.1,1463 317.1,1466 319.6,1466 319.6,1469 322.1,1469 322.1,1471 324.6,1471 324.6,1473 327.1,1473 327.1,1476 329.6,1476 329.6,1477 332.1,1477 332.1,1479 334.6,1479 334.6,1480 337.1,1480 337.1,1481 339.6,1481 339.6,1482 342.1,1482 342.1,1483 344.6,1483 344.6,1484 347.1,1484 347.1,1485 349.6,1485 349.6,1486 352.1,1486 352.1,1487 354.6,1487 354.6,1488 357.1,1488 359.6,1488 359.6,1489 362.1,1489 364.6,1489 367.1,1489 369.6,1489 370,1489.4 370,1488.7" fill="#e0f5d6"/>
<polyline points="125,1474.6 132.8,1477.7 140,1470 145,1462 147.6,1452.3 151,1442.5 153,1433 155.6,1422 158,1412 160,1402 161,1394 163,1384 165.6,1375 168,1365 169,1354 170.6,1344 173,1334 175,1324 175.6,1315 177,1304 178,1294 179,1284 180.6,1275 180.6,1264 180.6,1254 182.6,1244 183,1235 183,1225 183,1215 185,1204 185.6,1194 185.6,1184 187,1174 187,1164 188.5,1154 190,1144 191.5,1134 193,1124 195,1116 196.3,1106 197.6,1096 198.8,1086.5 200,1077 200,1067 201,1057 202.6,1047 202.6,1037 204,1026 205,1016 206,1008 211,996 215,987 218,978 218,969 220.6,959 223,949 228,940" fill="none" stroke="none" marker-start="url(#m4)" marker-mid="url(#m4)" marker-end="url(#m4)"/>
<polyline points="244,906 245.6,917 247,927 248,937 248,947 248,957 250,967 250,975 250.6,987 250.6,997 253,1006 253,1016 253,1027 255,1037 256,1045 256,1056 257,1065 258,1075 258,1084 258,1094 259,1104 260.6,1115 260.6,1125 260.6,1135 262,1144 263,1155 263,1165 263,1175 263,1185 264,1194.5 265,1204 265,1214 265,1225 267,1235 268,1244 268,1254 270.6,1265 270.6,1275 273,1285 273,1294 275.6,1305 276.8,1315 278,1325 278,1334 280.6,1344 280.6,1354 283,1365 283,1373 285.6,1384 287,1394 288,1404 290.6,1415 293,1425 295.6,1434 298,1443 300.6,1453 306,1461 312,1470 320,1476 326,1482 335,1486 343,1487.6" fill="none" stroke="none" marker-start="url(#m4)" marker-mid="url(#m4)" marker-end="url(#m4)"/>
<clipPath id="ci1"><rect x="123.4" y="855.1" width="116.8" height="82.9"/></clipPath>
<clipPath id="co1"><path clip-rule="evenodd" d="M0 0H1590V1601H0ZM123.4 855.1H240.2V938H123.4Z"/></clipPath>
<g clip-path="url(#co1)">
<line x1="118.9" y1="871.6" x2="118.9" y2="1489.7" stroke="#72cc30" stroke-width="3.2" stroke-linecap="butt"/>
<polyline points="123.4,872 123.4,939 124.6,941 124.6,1009 125.9,1011 125.9,1178 126.6,1218 127.8,1258 129.4,1290 131,1302 132.1,1284 134.6,1284 134.6,1269 137.1,1269 137.1,1257 139.6,1257 139.6,1246 142.1,1246 142.1,1234 144.6,1234 144.6,1219 147.1,1219 147.1,1202 149.6,1202 149.6,1180 152.1,1180 152.1,1136 154.6,1136 154.6,1102 157.1,1102 157.1,1091 159.6,1091 159.6,1084 162.1,1084 162.1,1078 164.6,1078 164.6,1066 167.1,1066 167.1,1046 169.6,1046 169.6,1020 172.1,1020 172.1,997 174.6,997 174.6,974 177.1,974 177.1,948 179.6,948 179.6,930 182.1,930 184.6,930 187.1,930 187.1,948 189.6,948 189.6,969 192.1,969 192.1,987 194.6,987 197.1,987 197.1,974 199.6,974 199.6,960 202.1,960 202.1,961 204.6,961 204.6,976 207.1,976 207.1,1000 209.6,1000 209.6,1020 212.1,1020 212.1,1035 214.6,1035 214.6,1047 217.1,1047 217.1,1054 219.6,1054 219.6,1063 222.1,1063 222.1,1076 224.6,1076 224.6,1092 227.1,1092 227.1,1115 229.6,1115 229.6,1129 232.1,1129 232.1,1132 234.6,1132 234.6,1136 237.1,1136 237.1,1142 239.6,1142 239.6,1155 242.1,1155 242.1,1172 244.6,1172 244.6,1196 247.1,1196 247.1,1211 249.6,1211 249.6,1219 252.1,1219 252.1,1226 254.6,1226 254.6,1235 257.1,1235 257.1,1246 259.6,1246 259.6,1259 262.1,1259 262.1,1271 264.6,1271 264.6,1284 267.1,1284 267.1,1298 269.6,1298 269.6,1309 272.1,1309 272.1,1311 274.6,1311 274.6,1312 277.1,1312 277.1,1315 279.6,1315 279.6,1322 282.1,1322 282.1,1331 284.6,1331 284.6,1347 287.1,1347 287.1,1366 289.6,1366 289.6,1379 292.1,1379 292.1,1388 294.6,1388 294.6,1397 297.1,1397 297.1,1404 299.6,1404 299.6,1412 302.1,1412 302.1,1421 304.6,1421 304.6,1431 307.1,1431 307.1,1441 309.6,1441 309.6,1451 312.1,1451 312.1,1458 314.6,1458 314.6,1463 317.1,1463 317.1,1466 319.6,1466 319.6,1469 322.1,1469 322.1,1471 324.6,1471 324.6,1473 327.1,1473 327.1,1476 329.6,1476 329.6,1477 332.1,1477 332.1,1479 334.6,1479 334.6,1480 337.1,1480 337.1,1481 339.6,1481 339.6,1482 342.1,1482 342.1,1483 344.6,1483 344.6,1484 347.1,1484 347.1,1485 349.6,1485 349.6,1486 352.1,1486 352.1,1487 354.6,1487 354.6,1488 357.1,1488 359.6,1488 359.6,1489 362.1,1489 364.6,1489 367.1,1489 369.6,1489 370,1489.4 759.7,1489.4" fill="none" stroke="#fff" stroke-width="7.2" stroke-linejoin="miter"/>
<polyline points="123.4,872 123.4,939 124.6,941 124.6,1009 125.9,1011 125.9,1178 126.6,1218 127.8,1258 129.4,1290 131,1302 132.1,1284 134.6,1284 134.6,1269 137.1,1269 137.1,1257 139.6,1257 139.6,1246 142.1,1246 142.1,1234 144.6,1234 144.6,1219 147.1,1219 147.1,1202 149.6,1202 149.6,1180 152.1,1180 152.1,1136 154.6,1136 154.6,1102 157.1,1102 157.1,1091 159.6,1091 159.6,1084 162.1,1084 162.1,1078 164.6,1078 164.6,1066 167.1,1066 167.1,1046 169.6,1046 169.6,1020 172.1,1020 172.1,997 174.6,997 174.6,974 177.1,974 177.1,948 179.6,948 179.6,930 182.1,930 184.6,930 187.1,930 187.1,948 189.6,948 189.6,969 192.1,969 192.1,987 194.6,987 197.1,987 197.1,974 199.6,974 199.6,960 202.1,960 202.1,961 204.6,961 204.6,976 207.1,976 207.1,1000 209.6,1000 209.6,1020 212.1,1020 212.1,1035 214.6,1035 214.6,1047 217.1,1047 217.1,1054 219.6,1054 219.6,1063 222.1,1063 222.1,1076 224.6,1076 224.6,1092 227.1,1092 227.1,1115 229.6,1115 229.6,1129 232.1,1129 232.1,1132 234.6,1132 234.6,1136 237.1,1136 237.1,1142 239.6,1142 239.6,1155 242.1,1155 242.1,1172 244.6,1172 244.6,1196 247.1,1196 247.1,1211 249.6,1211 249.6,1219 252.1,1219 252.1,1226 254.6,1226 254.6,1235 257.1,1235 257.1,1246 259.6,1246 259.6,1259 262.1,1259 262.1,1271 264.6,1271 264.6,1284 267.1,1284 267.1,1298 269.6,1298 269.6,1309 272.1,1309 272.1,1311 274.6,1311 274.6,1312 277.1,1312 277.1,1315 279.6,1315 279.6,1322 282.1,1322 282.1,1331 284.6,1331 284.6,1347 287.1,1347 287.1,1366 289.6,1366 289.6,1379 292.1,1379 292.1,1388 294.6,1388 294.6,1397 297.1,1397 297.1,1404 299.6,1404 299.6,1412 302.1,1412 302.1,1421 304.6,1421 304.6,1431 307.1,1431 307.1,1441 309.6,1441 309.6,1451 312.1,1451 312.1,1458 314.6,1458 314.6,1463 317.1,1463 317.1,1466 319.6,1466 319.6,1469 322.1,1469 322.1,1471 324.6,1471 324.6,1473 327.1,1473 327.1,1476 329.6,1476 329.6,1477 332.1,1477 332.1,1479 334.6,1479 334.6,1480 337.1,1480 337.1,1481 339.6,1481 339.6,1482 342.1,1482 342.1,1483 344.6,1483 344.6,1484 347.1,1484 347.1,1485 349.6,1485 349.6,1486 352.1,1486 352.1,1487 354.6,1487 354.6,1488 357.1,1488 359.6,1488 359.6,1489 362.1,1489 364.6,1489 367.1,1489 369.6,1489 370,1489.4 759.7,1489.4" fill="none" stroke="#68b82c" stroke-width="4.4" stroke-linejoin="miter"/>
</g>
<g clip-path="url(#ci1)">
<polyline points="123.4,872 123.4,939 124.6,941 124.6,1009 125.9,1011 125.9,1178 126.6,1218 127.8,1258 129.4,1290 131,1302 132.1,1284 134.6,1284 134.6,1269 137.1,1269 137.1,1257 139.6,1257 139.6,1246 142.1,1246 142.1,1234 144.6,1234 144.6,1219 147.1,1219 147.1,1202 149.6,1202 149.6,1180 152.1,1180 152.1,1136 154.6,1136 154.6,1102 157.1,1102 157.1,1091 159.6,1091 159.6,1084 162.1,1084 162.1,1078 164.6,1078 164.6,1066 167.1,1066 167.1,1046 169.6,1046 169.6,1020 172.1,1020 172.1,997 174.6,997 174.6,974 177.1,974 177.1,948 179.6,948 179.6,930 182.1,930 184.6,930 187.1,930 187.1,948 189.6,948 189.6,969 192.1,969 192.1,987 194.6,987 197.1,987 197.1,974 199.6,974 199.6,960 202.1,960 202.1,961 204.6,961 204.6,976 207.1,976 207.1,1000 209.6,1000 209.6,1020 212.1,1020 212.1,1035 214.6,1035 214.6,1047 217.1,1047 217.1,1054 219.6,1054 219.6,1063 222.1,1063 222.1,1076 224.6,1076 224.6,1092 227.1,1092 227.1,1115 229.6,1115 229.6,1129 232.1,1129 232.1,1132 234.6,1132 234.6,1136 237.1,1136 237.1,1142 239.6,1142 239.6,1155 242.1,1155 242.1,1172 244.6,1172 244.6,1196 247.1,1196 247.1,1211 249.6,1211 249.6,1219 252.1,1219 252.1,1226 254.6,1226 254.6,1235 257.1,1235 257.1,1246 259.6,1246 259.6,1259 262.1,1259 262.1,1271 264.6,1271 264.6,1284 267.1,1284 267.1,1298 269.6,1298 269.6,1309 272.1,1309 272.1,1311 274.6,1311 274.6,1312 277.1,1312 277.1,1315 279.6,1315 279.6,1322 282.1,1322 282.1,1331 284.6,1331 284.6,1347 287.1,1347 287.1,1366 289.6,1366 289.6,1379 292.1,1379 292.1,1388 294.6,1388 294.6,1397 297.1,1397 297.1,1404 299.6,1404 299.6,1412 302.1,1412 302.1,1421 304.6,1421 304.6,1431 307.1,1431 307.1,1441 309.6,1441 309.6,1451 312.1,1451 312.1,1458 314.6,1458 314.6,1463 317.1,1463 317.1,1466 319.6,1466 319.6,1469 322.1,1469 322.1,1471 324.6,1471 324.6,1473 327.1,1473 327.1,1476 329.6,1476 329.6,1477 332.1,1477 332.1,1479 334.6,1479 334.6,1480 337.1,1480 337.1,1481 339.6,1481 339.6,1482 342.1,1482 342.1,1483 344.6,1483 344.6,1484 347.1,1484 347.1,1485 349.6,1485 349.6,1486 352.1,1486 352.1,1487 354.6,1487 354.6,1488 357.1,1488 359.6,1488 359.6,1489 362.1,1489 364.6,1489 367.1,1489 369.6,1489 370,1489.4 759.7,1489.4" fill="none" stroke="#fff" stroke-width="6" stroke-linejoin="miter"/>
<polyline points="123.4,872 123.4,939 124.6,941 124.6,1009 125.9,1011 125.9,1178 126.6,1218 127.8,1258 129.4,1290 131,1302 132.1,1284 134.6,1284 134.6,1269 137.1,1269 137.1,1257 139.6,1257 139.6,1246 142.1,1246 142.1,1234 144.6,1234 144.6,1219 147.1,1219 147.1,1202 149.6,1202 149.6,1180 152.1,1180 152.1,1136 154.6,1136 154.6,1102 157.1,1102 157.1,1091 159.6,1091 159.6,1084 162.1,1084 162.1,1078 164.6,1078 164.6,1066 167.1,1066 167.1,1046 169.6,1046 169.6,1020 172.1,1020 172.1,997 174.6,997 174.6,974 177.1,974 177.1,948 179.6,948 179.6,930 182.1,930 184.6,930 187.1,930 187.1,948 189.6,948 189.6,969 192.1,969 192.1,987 194.6,987 197.1,987 197.1,974 199.6,974 199.6,960 202.1,960 202.1,961 204.6,961 204.6,976 207.1,976 207.1,1000 209.6,1000 209.6,1020 212.1,1020 212.1,1035 214.6,1035 214.6,1047 217.1,1047 217.1,1054 219.6,1054 219.6,1063 222.1,1063 222.1,1076 224.6,1076 224.6,1092 227.1,1092 227.1,1115 229.6,1115 229.6,1129 232.1,1129 232.1,1132 234.6,1132 234.6,1136 237.1,1136 237.1,1142 239.6,1142 239.6,1155 242.1,1155 242.1,1172 244.6,1172 244.6,1196 247.1,1196 247.1,1211 249.6,1211 249.6,1219 252.1,1219 252.1,1226 254.6,1226 254.6,1235 257.1,1235 257.1,1246 259.6,1246 259.6,1259 262.1,1259 262.1,1271 264.6,1271 264.6,1284 267.1,1284 267.1,1298 269.6,1298 269.6,1309 272.1,1309 272.1,1311 274.6,1311 274.6,1312 277.1,1312 277.1,1315 279.6,1315 279.6,1322 282.1,1322 282.1,1331 284.6,1331 284.6,1347 287.1,1347 287.1,1366 289.6,1366 289.6,1379 292.1,1379 292.1,1388 294.6,1388 294.6,1397 297.1,1397 297.1,1404 299.6,1404 299.6,1412 302.1,1412 302.1,1421 304.6,1421 304.6,1431 307.1,1431 307.1,1441 309.6,1441 309.6,1451 312.1,1451 312.1,1458 314.6,1458 314.6,1463 317.1,1463 317.1,1466 319.6,1466 319.6,1469 322.1,1469 322.1,1471 324.6,1471 324.6,1473 327.1,1473 327.1,1476 329.6,1476 329.6,1477 332.1,1477 332.1,1479 334.6,1479 334.6,1480 337.1,1480 337.1,1481 339.6,1481 339.6,1482 342.1,1482 342.1,1483 344.6,1483 344.6,1484 347.1,1484 347.1,1485 349.6,1485 349.6,1486 352.1,1486 352.1,1487 354.6,1487 354.6,1488 357.1,1488 359.6,1488 359.6,1489 362.1,1489 364.6,1489 367.1,1489 369.6,1489 370,1489.4 759.7,1489.4" fill="none" stroke="#b4e796" stroke-width="2.2" stroke-linejoin="miter"/>
</g>
<polyline points="125,1474.6 132.8,1477.7 140,1470 145,1462 147.6,1452.3 151,1442.5 153,1433 155.6,1422 158,1412 160,1402 161,1394 163,1384 165.6,1375 168,1365 169,1354 170.6,1344 173,1334 175,1324 175.6,1315 177,1304 178,1294 179,1284 180.6,1275 180.6,1264 180.6,1254 182.6,1244 183,1235 183,1225 183,1215 185,1204 185.6,1194 185.6,1184 187,1174 187,1164 188.5,1154 190,1144 191.5,1134 193,1124 195,1116 196.3,1106 197.6,1096 198.8,1086.5 200,1077 200,1067 201,1057 202.6,1047 202.6,1037 204,1026 205,1016 206,1008 211,996 215,987 218,978 218,969 220.6,959 223,949 228,940" fill="none" stroke="none" marker-start="url(#m1)" marker-mid="url(#m1)" marker-end="url(#m1)"/>
<polyline points="244,906 245.6,917 247,927 248,937 248,947 248,957 250,967 250,975 250.6,987 250.6,997 253,1006 253,1016 253,1027 255,1037 256,1045 256,1056 257,1065 258,1075 258,1084 258,1094 259,1104 260.6,1115 260.6,1125 260.6,1135 262,1144 263,1155 263,1165 263,1175 263,1185 264,1194.5 265,1204 265,1214 265,1225 267,1235 268,1244 268,1254 270.6,1265 270.6,1275 273,1285 273,1294 275.6,1305 276.8,1315 278,1325 278,1334 280.6,1344 280.6,1354 283,1365 283,1373 285.6,1384 287,1394 288,1404 290.6,1415 293,1425 295.6,1434 298,1443 300.6,1453 306,1461 312,1470 320,1476 326,1482 335,1486 343,1487.6" fill="none" stroke="none" marker-start="url(#m1)" marker-mid="url(#m1)" marker-end="url(#m1)"/>
<polyline points="233,931 236,922 238,910 239,903" fill="none" stroke="none" marker-start="url(#m2)" marker-mid="url(#m2)" marker-end="url(#m2)"/>
<polyline points="364,1486 364,1486" fill="none" stroke="none" marker-start="url(#m1)"/>
<line x1="242" y1="890.6" x2="242" y2="897.4" stroke="#000" stroke-width="3.4" stroke-linecap="round"/>
<rect x="119.65" y="851.35" width="644.85" height="3.5" fill="#000"/>
<rect x="119.65" y="851.35" width="3.5" height="644" fill="#000"/>
<rect x="758.7" y="851.35" width="5.8" height="644" fill="#000"/>
<rect x="119.65" y="1491.85" width="644.85" height="3.5" fill="#000"/>
<line x1="102.8" y1="1493.8" x2="121.4" y2="1493.8" stroke="#000" stroke-width="3.6" stroke-linecap="round"/>
<text class="t" transform="translate(75.87 1492.7) scale(0.8712 1.0000)">0</text>
<line x1="113" y1="1463.51" x2="121.4" y2="1463.51" stroke="#000" stroke-width="3.5" stroke-linecap="round"/>
<line x1="113" y1="1433.22" x2="121.4" y2="1433.22" stroke="#000" stroke-width="3.5" stroke-linecap="round"/>
<line x1="113" y1="1402.93" x2="121.4" y2="1402.93" stroke="#000" stroke-width="3.5" stroke-linecap="round"/>
<line x1="102.8" y1="1372.64" x2="121.4" y2="1372.64" stroke="#000" stroke-width="3.6" stroke-linecap="round"/>
<text class="t" transform="translate(58.74 1383.84) scale(0.8700 1.0000)" letter-spacing="1.96">20</text>
<line x1="113" y1="1342.35" x2="121.4" y2="1342.35" stroke="#000" stroke-width="3.5" stroke-linecap="round"/>
<line x1="113" y1="1312.06" x2="121.4" y2="1312.06" stroke="#000" stroke-width="3.5" stroke-linecap="round"/>
<line x1="113" y1="1281.77" x2="121.4" y2="1281.77" stroke="#000" stroke-width="3.5" stroke-linecap="round"/>
<line x1="102.8" y1="1251.48" x2="121.4" y2="1251.48" stroke="#000" stroke-width="3.6" stroke-linecap="round"/>
<text class="t" transform="translate(59.5 1262.68) scale(0.8700 1.0000)" letter-spacing="1.08">40</text>
<line x1="113" y1="1221.19" x2="121.4" y2="1221.19" stroke="#000" stroke-width="3.5" stroke-linecap="round"/>
<line x1="113" y1="1190.9" x2="121.4" y2="1190.9" stroke="#000" stroke-width="3.5" stroke-linecap="round"/>
<line x1="113" y1="1160.61" x2="121.4" y2="1160.61" stroke="#000" stroke-width="3.5" stroke-linecap="round"/>
<line x1="102.8" y1="1130.32" x2="121.4" y2="1130.32" stroke="#000" stroke-width="3.6" stroke-linecap="round"/>
<text class="t" transform="translate(58.74 1141.52) scale(0.8700 1.0000)" letter-spacing="1.96">60</text>
<line x1="113" y1="1100.03" x2="121.4" y2="1100.03" stroke="#000" stroke-width="3.5" stroke-linecap="round"/>
<line x1="113" y1="1069.74" x2="121.4" y2="1069.74" stroke="#000" stroke-width="3.5" stroke-linecap="round"/>
<line x1="113" y1="1039.45" x2="121.4" y2="1039.45" stroke="#000" stroke-width="3.5" stroke-linecap="round"/>
<line x1="102.8" y1="1009.16" x2="121.4" y2="1009.16" stroke="#000" stroke-width="3.6" stroke-linecap="round"/>
<text class="t" transform="translate(58.96 1020.36) scale(0.8700 1.0000)" letter-spacing="1.71">80</text>
<line x1="113" y1="978.87" x2="121.4" y2="978.87" stroke="#000" stroke-width="3.5" stroke-linecap="round"/>
<line x1="113" y1="948.58" x2="121.4" y2="948.58" stroke="#000" stroke-width="3.5" stroke-linecap="round"/>
<line x1="113" y1="918.29" x2="121.4" y2="918.29" stroke="#000" stroke-width="3.5" stroke-linecap="round"/>
<line x1="102.8" y1="888" x2="121.4" y2="888" stroke="#000" stroke-width="3.6" stroke-linecap="round"/>
<text class="t" transform="translate(40.29 899.2) scale(0.8700 1.0000)" letter-spacing="2.65">100</text>
<line x1="113" y1="855.6" x2="121.4" y2="855.6" stroke="#000" stroke-width="3.5" stroke-linecap="round"/>
<line x1="121.4" y1="1493.6" x2="121.4" y2="1511.6" stroke="#000" stroke-width="3.7" stroke-linecap="round"/>
<line x1="169.47" y1="1493.6" x2="169.47" y2="1501.6" stroke="#000" stroke-width="3.5" stroke-linecap="round"/>
<line x1="197.58" y1="1493.6" x2="197.58" y2="1501.6" stroke="#000" stroke-width="3.5" stroke-linecap="round"/>
<line x1="217.53" y1="1493.6" x2="217.53" y2="1501.6" stroke="#000" stroke-width="3.5" stroke-linecap="round"/>
<line x1="233.01" y1="1493.6" x2="233.01" y2="1506.2" stroke="#000" stroke-width="3.5" stroke-linecap="round"/>
<line x1="245.65" y1="1493.6" x2="245.65" y2="1501.6" stroke="#000" stroke-width="3.5" stroke-linecap="round"/>
<line x1="256.34" y1="1493.6" x2="256.34" y2="1501.6" stroke="#000" stroke-width="3.5" stroke-linecap="round"/>
<line x1="265.6" y1="1493.6" x2="265.6" y2="1501.6" stroke="#000" stroke-width="3.5" stroke-linecap="round"/>
<line x1="273.77" y1="1493.6" x2="273.77" y2="1501.6" stroke="#000" stroke-width="3.5" stroke-linecap="round"/>
<line x1="281.08" y1="1493.6" x2="281.08" y2="1511.6" stroke="#000" stroke-width="3.7" stroke-linecap="round"/>
<line x1="329.14" y1="1493.6" x2="329.14" y2="1501.6" stroke="#000" stroke-width="3.5" stroke-linecap="round"/>
<line x1="357.26" y1="1493.6" x2="357.26" y2="1501.6" stroke="#000" stroke-width="3.5" stroke-linecap="round"/>
<line x1="377.21" y1="1493.6" x2="377.21" y2="1501.6" stroke="#000" stroke-width="3.5" stroke-linecap="round"/>
<line x1="392.68" y1="1493.6" x2="392.68" y2="1506.2" stroke="#000" stroke-width="3.5" stroke-linecap="round"/>
<line x1="405.33" y1="1493.6" x2="405.33" y2="1501.6" stroke="#000" stroke-width="3.5" stroke-linecap="round"/>
<line x1="416.02" y1="1493.6" x2="416.02" y2="1501.6" stroke="#000" stroke-width="3.5" stroke-linecap="round"/>
<line x1="425.28" y1="1493.6" x2="425.28" y2="1501.6" stroke="#000" stroke-width="3.5" stroke-linecap="round"/>
<line x1="433.44" y1="1493.6" x2="433.44" y2="1501.6" stroke="#000" stroke-width="3.5" stroke-linecap="round"/>
<line x1="440.75" y1="1493.6" x2="440.75" y2="1511.6" stroke="#000" stroke-width="3.7" stroke-linecap="round"/>
<line x1="488.82" y1="1493.6" x2="488.82" y2="1501.6" stroke="#000" stroke-width="3.5" stroke-linecap="round"/>
<line x1="516.93" y1="1493.6" x2="516.93" y2="1501.6" stroke="#000" stroke-width="3.5" stroke-linecap="round"/>
<line x1="536.88" y1="1493.6" x2="536.88" y2="1501.6" stroke="#000" stroke-width="3.5" stroke-linecap="round"/>
<line x1="552.36" y1="1493.6" x2="552.36" y2="1506.2" stroke="#000" stroke-width="3.5" stroke-linecap="round"/>
<line x1="565" y1="1493.6" x2="565" y2="1501.6" stroke="#000" stroke-width="3.5" stroke-linecap="round"/>
<line x1="575.69" y1="1493.6" x2="575.69" y2="1501.6" stroke="#000" stroke-width="3.5" stroke-linecap="round"/>
<line x1="584.95" y1="1493.6" x2="584.95" y2="1501.6" stroke="#000" stroke-width="3.5" stroke-linecap="round"/>
<line x1="593.12" y1="1493.6" x2="593.12" y2="1501.6" stroke="#000" stroke-width="3.5" stroke-linecap="round"/>
<line x1="600.43" y1="1493.6" x2="600.43" y2="1511.6" stroke="#000" stroke-width="3.7" stroke-linecap="round"/>
<line x1="648.49" y1="1493.6" x2="648.49" y2="1501.6" stroke="#000" stroke-width="3.5" stroke-linecap="round"/>
<line x1="676.61" y1="1493.6" x2="676.61" y2="1501.6" stroke="#000" stroke-width="3.5" stroke-linecap="round"/>
<line x1="696.56" y1="1493.6" x2="696.56" y2="1501.6" stroke="#000" stroke-width="3.5" stroke-linecap="round"/>
<line x1="712.03" y1="1493.6" x2="712.03" y2="1506.2" stroke="#000" stroke-width="3.5" stroke-linecap="round"/>
<line x1="724.68" y1="1493.6" x2="724.68" y2="1501.6" stroke="#000" stroke-width="3.5" stroke-linecap="round"/>
<line x1="735.37" y1="1493.6" x2="735.37" y2="1501.6" stroke="#000" stroke-width="3.5" stroke-linecap="round"/>
<line x1="744.63" y1="1493.6" x2="744.63" y2="1501.6" stroke="#000" stroke-width="3.5" stroke-linecap="round"/>
<line x1="752.79" y1="1493.6" x2="752.79" y2="1501.6" stroke="#000" stroke-width="3.5" stroke-linecap="round"/>
<line x1="760.1" y1="1493.6" x2="760.1" y2="1511.6" stroke="#000" stroke-width="3.7" stroke-linecap="round"/>
<text class="t" transform="translate(130.09 1557.1) scale(0.8700 1.0000)" letter-spacing="3.51">10</text>
<text class="t" transform="translate(167.32 1534.4) scale(0.8037 1.0000)">0</text>
<text class="t" transform="translate(265.49 1557.1) scale(0.8700 1.0000)" letter-spacing="3.97">10</text>
<text class="t" transform="translate(301.47 1534.4) scale(0.6097 1.0000)">1</text>
<text class="t" transform="translate(418.19 1557.1) scale(0.8700 1.0000)" letter-spacing="3.63">10</text>
<text class="t" transform="translate(455 1534.4) scale(0.9123 1.0000)">2</text>
<text class="t" transform="translate(566.49 1557.1) scale(0.8700 1.0000)" letter-spacing="3.05">10</text>
<text class="t" transform="translate(603.69 1534.4) scale(0.8408 1.0000)">3</text>
<text class="t" transform="translate(719.39 1557.1) scale(0.8700 1.0000)" letter-spacing="2.25">10</text>
<text class="t" transform="translate(755.82 1534.4) scale(0.7860 1.0000)">4</text>
<text class="t" xml:space="preserve" transform="translate(0 1594.6) scale(0.8700 1.0000)"><tspan x="356.87" letter-spacing="1.53">FL1-H:: </tspan><tspan x="482.35" letter-spacing="2.4">CD45 </tspan><tspan x="582.61" letter-spacing="0.49">FITC</tspan></text>
<text class="t" transform="translate(39.1 1213.56) rotate(-90) scale(0.8700 1.0000)" letter-spacing="2.14">Count</text>
<line x1="123" y1="975.6" x2="332" y2="975.6" stroke="#000" stroke-width="3.5" stroke-linecap="butt"/>
<line x1="332" y1="963.2" x2="332" y2="988" stroke="#000" stroke-width="3.3" stroke-linecap="round"/>
<line x1="332" y1="942.6" x2="759" y2="942.6" stroke="#000" stroke-width="3.5" stroke-linecap="butt"/>
<line x1="332" y1="930.2" x2="332" y2="955" stroke="#000" stroke-width="3.3" stroke-linecap="round"/>
<text class="t" transform="translate(132.17 886.7) scale(0.8700 1.0000)" letter-spacing="1.75">FL1-H-</text>
<text class="t" transform="translate(133.15 926.9) scale(0.8700 1.0000)" letter-spacing="2.16">99.7%</text>
<text class="t" transform="translate(643.47 886.7) scale(0.8700 1.0000)" letter-spacing="1.97">FL1-H+</text>
<text class="t" transform="translate(644.67 926.9) scale(0.8700 1.0000)" letter-spacing="1.99">0.286%</text>
</g>
<g id="p4">
<polygon points="940,1487.2 940,1266 942,1356 943.5,1385 945.3,1406.5 946.8,1396 949.3,1396 949.3,1382 951.8,1382 951.8,1368 954.3,1368 954.3,1354 956.8,1354 956.8,1343 959.3,1343 959.3,1332 961.8,1332 961.8,1320 964.3,1320 964.3,1311 966.8,1311 966.8,1304 969.3,1304 969.3,1295 971.8,1295 971.8,1285 974.3,1285 974.3,1274 976.8,1274 976.8,1262 979.3,1262 979.3,1243 981.8,1243 981.8,1224 984.3,1224 984.3,1213 986.8,1213 986.8,1204 989.3,1204 989.3,1194 991.8,1194 991.8,1181 994.3,1181 994.3,1165 996.8,1165 996.8,1145 999.3,1145 999.3,1120 1001.8,1120 1001.8,1098 1004.3,1098 1004.3,1074 1006.8,1074 1006.8,1067 1009.3,1067 1009.3,1065 1011.8,1065 1011.8,1068 1014.3,1068 1014.3,1070 1016.8,1070 1016.8,1068 1019.3,1068 1019.3,1051 1021.8,1051 1021.8,1040 1024.3,1040 1024.3,1029 1026.8,1029 1026.8,1014 1029.3,1014 1029.3,992 1031.8,992 1031.8,962 1034.3,962 1034.3,922 1036.8,922 1036.8,920 1039.3,920 1039.3,922 1041.8,922 1041.8,929 1044.3,929 1044.3,957 1046.8,957 1046.8,985 1049.3,985 1049.3,1018 1051.8,1018 1051.8,1044 1054.3,1044 1054.3,1056 1056.8,1056 1056.8,1052 1059.3,1052 1059.3,1044 1061.8,1044 1061.8,1038 1064.3,1038 1064.3,1052 1066.8,1052 1066.8,1068 1069.3,1068 1069.3,1081 1071.8,1081 1071.8,1094 1074.3,1094 1074.3,1106 1076.8,1106 1076.8,1116 1079.3,1116 1079.3,1126 1081.8,1126 1081.8,1136 1084.3,1136 1084.3,1145 1086.8,1145 1086.8,1154 1089.3,1154 1089.3,1164 1091.8,1164 1091.8,1178 1094.3,1178 1094.3,1186 1096.8,1186 1096.8,1196 1099.3,1196 1099.3,1207 1101.8,1207 1101.8,1222 1104.3,1222 1104.3,1237 1106.8,1237 1106.8,1245 1109.3,1245 1109.3,1250 1111.8,1250 1111.8,1253 1114.3,1253 1114.3,1255 1116.8,1255 1116.8,1266 1119.3,1266 1119.3,1286 1121.8,1286 1121.8,1305 1124.3,1305 1124.3,1321 1126.8,1321 1126.8,1331 1129.3,1331 1129.3,1337 1131.8,1337 1131.8,1344 1134.3,1344 1134.3,1353 1136.8,1353 1136.8,1364 1139.3,1364 1139.3,1376 1141.8,1376 1141.8,1388 1144.3,1388 1144.3,1397 1146.8,1397 1146.8,1406 1149.3,1406 1149.3,1414 1151.8,1414 1151.8,1420 1154.3,1420 1154.3,1424 1156.8,1424 1156.8,1428 1159.3,1428 1159.3,1433 1161.8,1433 1161.8,1438 1164.3,1438 1164.3,1443 1166.8,1443 1166.8,1447 1169.3,1447 1169.3,1451 1171.8,1451 1171.8,1455 1174.3,1455 1174.3,1458 1176.8,1458 1176.8,1462 1179.3,1462 1179.3,1465 1181.8,1465 1181.8,1468 1184.3,1468 1184.3,1471 1186.8,1471 1186.8,1473 1189.3,1473 1189.3,1475 1191.8,1475 1191.8,1476 1194.3,1476 1194.3,1478 1196.8,1478 1196.8,1479 1199.3,1479 1199.3,1481 1201.8,1481 1201.8,1482 1204.3,1482 1204.3,1484 1206.8,1484 1206.8,1485 1209.3,1485 1209.3,1486 1211.8,1486 1211.8,1487 1214.3,1487 1214.3,1488 1216.8,1488 1219.3,1488 1219.3,1489 1221.8,1489 1224,1489.2 1224,1487.2" fill="#f3d6d8"/>
<polyline points="945.5,1490 956.5,1486 964.5,1483 972.5,1477 978.5,1469 983.1,1462 987.1,1452 992.5,1444 994.5,1435 997.5,1424 1002.1,1414 1004.5,1404 1005.5,1395 1007.1,1385 1009.5,1375 1012.1,1366 1014.5,1356 1015.1,1347 1017.1,1337 1017.1,1327 1019.5,1317 1019.5,1307 1022.1,1297 1022.1,1287 1023.5,1277 1025.1,1267 1027.1,1257 1027.1,1247 1029.5,1237 1030.1,1227 1032.1,1217 1032.1,1207 1034.5,1196 1036,1186 1037.5,1177 1039.5,1167 1040.5,1157 1042.5,1146 1044.5,1136 1045.5,1128 1047.1,1118 1048.5,1109 1049.5,1099 1049.5,1089 1052.5,1079 1052.5,1068 1055.1,1059 1056.5,1049 1057.5,1039 1060.1,1029 1060.1,1019 1062.1,1009 1062.1,999 1062.1,989 1064.5,978 1064.5,968 1067.5,959 1069.5,949 1072.5,938 1072.5,928 1075.1,921 1079.5,915 1085.5,903 1087.1,914 1089.5,923 1089.5,933 1092.5,944 1092.5,954 1095.1,964 1095.1,975 1097.1,984 1097.5,994 1098.5,1004 1100.1,1014 1102.1,1024 1103.1,1034 1103.1,1044 1105.1,1054 1105.1,1064 1105.1,1074 1106.1,1084 1107.5,1095 1107.5,1105 1107.5,1115 1107.5,1125 1107.5,1135 1108.5,1145 1110.1,1155 1110.1,1164 1110.1,1174 1110.1,1184 1110.1,1194 1111.1,1204 1112.1,1214 1112.1,1224 1112.1,1234 1113.5,1244 1115.1,1254 1116.5,1266 1117.5,1274 1117.5,1281 1120.1,1292 1120.1,1302 1122.5,1312 1122.5,1322 1125.1,1333 1125.1,1342 1127.5,1352 1127.5,1362 1130.1,1372 1132.5,1383 1135.1,1393 1137.5,1403 1140.1,1413 1142.5,1421 1143.5,1430 1146.5,1439 1151.5,1449 1155.5,1459 1159.5,1466 1167.5,1473 1175.5,1478 1183.5,1483 1191.5,1486.2 1202,1487.4" fill="none" stroke="none" marker-start="url(#m4)" marker-mid="url(#m4)" marker-end="url(#m4)"/>
<clipPath id="ci2"><rect x="938" y="856" width="118" height="82"/></clipPath>
<clipPath id="co2"><path clip-rule="evenodd" d="M0 0H1590V1601H0ZM938 856H1056V938H938Z"/></clipPath>
<g clip-path="url(#co2)">
<line x1="932.8" y1="1116.5" x2="932.8" y2="1489.7" stroke="#dc0000" stroke-width="3.6" stroke-linecap="butt"/>
<polyline points="937.9,1165 937.9,1264 940.2,1266 940.2,1352 942,1356 943.5,1385 945.3,1406.5 946.8,1396 949.3,1396 949.3,1382 951.8,1382 951.8,1368 954.3,1368 954.3,1354 956.8,1354 956.8,1343 959.3,1343 959.3,1332 961.8,1332 961.8,1320 964.3,1320 964.3,1311 966.8,1311 966.8,1304 969.3,1304 969.3,1295 971.8,1295 971.8,1285 974.3,1285 974.3,1274 976.8,1274 976.8,1262 979.3,1262 979.3,1243 981.8,1243 981.8,1224 984.3,1224 984.3,1213 986.8,1213 986.8,1204 989.3,1204 989.3,1194 991.8,1194 991.8,1181 994.3,1181 994.3,1165 996.8,1165 996.8,1145 999.3,1145 999.3,1120 1001.8,1120 1001.8,1098 1004.3,1098 1004.3,1074 1006.8,1074 1006.8,1067 1009.3,1067 1009.3,1065 1011.8,1065 1011.8,1068 1014.3,1068 1014.3,1070 1016.8,1070 1016.8,1068 1019.3,1068 1019.3,1051 1021.8,1051 1021.8,1040 1024.3,1040 1024.3,1029 1026.8,1029 1026.8,1014 1029.3,1014 1029.3,992 1031.8,992 1031.8,962 1034.3,962 1034.3,922 1036.8,922 1036.8,920 1039.3,920 1039.3,922 1041.8,922 1041.8,929 1044.3,929 1044.3,957 1046.8,957 1046.8,985 1049.3,985 1049.3,1018 1051.8,1018 1051.8,1044 1054.3,1044 1054.3,1056 1056.8,1056 1056.8,1052 1059.3,1052 1059.3,1044 1061.8,1044 1061.8,1038 1064.3,1038 1064.3,1052 1066.8,1052 1066.8,1068 1069.3,1068 1069.3,1081 1071.8,1081 1071.8,1094 1074.3,1094 1074.3,1106 1076.8,1106 1076.8,1116 1079.3,1116 1079.3,1126 1081.8,1126 1081.8,1136 1084.3,1136 1084.3,1145 1086.8,1145 1086.8,1154 1089.3,1154 1089.3,1164 1091.8,1164 1091.8,1178 1094.3,1178 1094.3,1186 1096.8,1186 1096.8,1196 1099.3,1196 1099.3,1207 1101.8,1207 1101.8,1222 1104.3,1222 1104.3,1237 1106.8,1237 1106.8,1245 1109.3,1245 1109.3,1250 1111.8,1250 1111.8,1253 1114.3,1253 1114.3,1255 1116.8,1255 1116.8,1266 1119.3,1266 1119.3,1286 1121.8,1286 1121.8,1305 1124.3,1305 1124.3,1321 1126.8,1321 1126.8,1331 1129.3,1331 1129.3,1337 1131.8,1337 1131.8,1344 1134.3,1344 1134.3,1353 1136.8,1353 1136.8,1364 1139.3,1364 1139.3,1376 1141.8,1376 1141.8,1388 1144.3,1388 1144.3,1397 1146.8,1397 1146.8,1406 1149.3,1406 1149.3,1414 1151.8,1414 1151.8,1420 1154.3,1420 1154.3,1424 1156.8,1424 1156.8,1428 1159.3,1428 1159.3,1433 1161.8,1433 1161.8,1438 1164.3,1438 1164.3,1443 1166.8,1443 1166.8,1447 1169.3,1447 1169.3,1451 1171.8,1451 1171.8,1455 1174.3,1455 1174.3,1458 1176.8,1458 1176.8,1462 1179.3,1462 1179.3,1465 1181.8,1465 1181.8,1468 1184.3,1468 1184.3,1471 1186.8,1471 1186.8,1473 1189.3,1473 1189.3,1475 1191.8,1475 1191.8,1476 1194.3,1476 1194.3,1478 1196.8,1478 1196.8,1479 1199.3,1479 1199.3,1481 1201.8,1481 1201.8,1482 1204.3,1482 1204.3,1484 1206.8,1484 1206.8,1485 1209.3,1485 1209.3,1486 1211.8,1486 1211.8,1487 1214.3,1487 1214.3,1488 1216.8,1488 1219.3,1488 1219.3,1489 1221.8,1489 1224,1489.2 1572.8,1489.2" fill="none" stroke="#fff" stroke-width="7.2" stroke-linejoin="miter"/>
<polyline points="937.9,1165 937.9,1264 940.2,1266 940.2,1352 942,1356 943.5,1385 945.3,1406.5 946.8,1396 949.3,1396 949.3,1382 951.8,1382 951.8,1368 954.3,1368 954.3,1354 956.8,1354 956.8,1343 959.3,1343 959.3,1332 961.8,1332 961.8,1320 964.3,1320 964.3,1311 966.8,1311 966.8,1304 969.3,1304 969.3,1295 971.8,1295 971.8,1285 974.3,1285 974.3,1274 976.8,1274 976.8,1262 979.3,1262 979.3,1243 981.8,1243 981.8,1224 984.3,1224 984.3,1213 986.8,1213 986.8,1204 989.3,1204 989.3,1194 991.8,1194 991.8,1181 994.3,1181 994.3,1165 996.8,1165 996.8,1145 999.3,1145 999.3,1120 1001.8,1120 1001.8,1098 1004.3,1098 1004.3,1074 1006.8,1074 1006.8,1067 1009.3,1067 1009.3,1065 1011.8,1065 1011.8,1068 1014.3,1068 1014.3,1070 1016.8,1070 1016.8,1068 1019.3,1068 1019.3,1051 1021.8,1051 1021.8,1040 1024.3,1040 1024.3,1029 1026.8,1029 1026.8,1014 1029.3,1014 1029.3,992 1031.8,992 1031.8,962 1034.3,962 1034.3,922 1036.8,922 1036.8,920 1039.3,920 1039.3,922 1041.8,922 1041.8,929 1044.3,929 1044.3,957 1046.8,957 1046.8,985 1049.3,985 1049.3,1018 1051.8,1018 1051.8,1044 1054.3,1044 1054.3,1056 1056.8,1056 1056.8,1052 1059.3,1052 1059.3,1044 1061.8,1044 1061.8,1038 1064.3,1038 1064.3,1052 1066.8,1052 1066.8,1068 1069.3,1068 1069.3,1081 1071.8,1081 1071.8,1094 1074.3,1094 1074.3,1106 1076.8,1106 1076.8,1116 1079.3,1116 1079.3,1126 1081.8,1126 1081.8,1136 1084.3,1136 1084.3,1145 1086.8,1145 1086.8,1154 1089.3,1154 1089.3,1164 1091.8,1164 1091.8,1178 1094.3,1178 1094.3,1186 1096.8,1186 1096.8,1196 1099.3,1196 1099.3,1207 1101.8,1207 1101.8,1222 1104.3,1222 1104.3,1237 1106.8,1237 1106.8,1245 1109.3,1245 1109.3,1250 1111.8,1250 1111.8,1253 1114.3,1253 1114.3,1255 1116.8,1255 1116.8,1266 1119.3,1266 1119.3,1286 1121.8,1286 1121.8,1305 1124.3,1305 1124.3,1321 1126.8,1321 1126.8,1331 1129.3,1331 1129.3,1337 1131.8,1337 1131.8,1344 1134.3,1344 1134.3,1353 1136.8,1353 1136.8,1364 1139.3,1364 1139.3,1376 1141.8,1376 1141.8,1388 1144.3,1388 1144.3,1397 1146.8,1397 1146.8,1406 1149.3,1406 1149.3,1414 1151.8,1414 1151.8,1420 1154.3,1420 1154.3,1424 1156.8,1424 1156.8,1428 1159.3,1428 1159.3,1433 1161.8,1433 1161.8,1438 1164.3,1438 1164.3,1443 1166.8,1443 1166.8,1447 1169.3,1447 1169.3,1451 1171.8,1451 1171.8,1455 1174.3,1455 1174.3,1458 1176.8,1458 1176.8,1462 1179.3,1462 1179.3,1465 1181.8,1465 1181.8,1468 1184.3,1468 1184.3,1471 1186.8,1471 1186.8,1473 1189.3,1473 1189.3,1475 1191.8,1475 1191.8,1476 1194.3,1476 1194.3,1478 1196.8,1478 1196.8,1479 1199.3,1479 1199.3,1481 1201.8,1481 1201.8,1482 1204.3,1482 1204.3,1484 1206.8,1484 1206.8,1485 1209.3,1485 1209.3,1486 1211.8,1486 1211.8,1487 1214.3,1487 1214.3,1488 1216.8,1488 1219.3,1488 1219.3,1489 1221.8,1489 1224,1489.2 1572.8,1489.2" fill="none" stroke="#dc0000" stroke-width="4.4" stroke-linejoin="miter"/>
</g>
<g clip-path="url(#ci2)">
<polyline points="937.9,1165 937.9,1264 940.2,1266 940.2,1352 942,1356 943.5,1385 945.3,1406.5 946.8,1396 949.3,1396 949.3,1382 951.8,1382 951.8,1368 954.3,1368 954.3,1354 956.8,1354 956.8,1343 959.3,1343 959.3,1332 961.8,1332 961.8,1320 964.3,1320 964.3,1311 966.8,1311 966.8,1304 969.3,1304 969.3,1295 971.8,1295 971.8,1285 974.3,1285 974.3,1274 976.8,1274 976.8,1262 979.3,1262 979.3,1243 981.8,1243 981.8,1224 984.3,1224 984.3,1213 986.8,1213 986.8,1204 989.3,1204 989.3,1194 991.8,1194 991.8,1181 994.3,1181 994.3,1165 996.8,1165 996.8,1145 999.3,1145 999.3,1120 1001.8,1120 1001.8,1098 1004.3,1098 1004.3,1074 1006.8,1074 1006.8,1067 1009.3,1067 1009.3,1065 1011.8,1065 1011.8,1068 1014.3,1068 1014.3,1070 1016.8,1070 1016.8,1068 1019.3,1068 1019.3,1051 1021.8,1051 1021.8,1040 1024.3,1040 1024.3,1029 1026.8,1029 1026.8,1014 1029.3,1014 1029.3,992 1031.8,992 1031.8,962 1034.3,962 1034.3,922 1036.8,922 1036.8,920 1039.3,920 1039.3,922 1041.8,922 1041.8,929 1044.3,929 1044.3,957 1046.8,957 1046.8,985 1049.3,985 1049.3,1018 1051.8,1018 1051.8,1044 1054.3,1044 1054.3,1056 1056.8,1056 1056.8,1052 1059.3,1052 1059.3,1044 1061.8,1044 1061.8,1038 1064.3,1038 1064.3,1052 1066.8,1052 1066.8,1068 1069.3,1068 1069.3,1081 1071.8,1081 1071.8,1094 1074.3,1094 1074.3,1106 1076.8,1106 1076.8,1116 1079.3,1116 1079.3,1126 1081.8,1126 1081.8,1136 1084.3,1136 1084.3,1145 1086.8,1145 1086.8,1154 1089.3,1154 1089.3,1164 1091.8,1164 1091.8,1178 1094.3,1178 1094.3,1186 1096.8,1186 1096.8,1196 1099.3,1196 1099.3,1207 1101.8,1207 1101.8,1222 1104.3,1222 1104.3,1237 1106.8,1237 1106.8,1245 1109.3,1245 1109.3,1250 1111.8,1250 1111.8,1253 1114.3,1253 1114.3,1255 1116.8,1255 1116.8,1266 1119.3,1266 1119.3,1286 1121.8,1286 1121.8,1305 1124.3,1305 1124.3,1321 1126.8,1321 1126.8,1331 1129.3,1331 1129.3,1337 1131.8,1337 1131.8,1344 1134.3,1344 1134.3,1353 1136.8,1353 1136.8,1364 1139.3,1364 1139.3,1376 1141.8,1376 1141.8,1388 1144.3,1388 1144.3,1397 1146.8,1397 1146.8,1406 1149.3,1406 1149.3,1414 1151.8,1414 1151.8,1420 1154.3,1420 1154.3,1424 1156.8,1424 1156.8,1428 1159.3,1428 1159.3,1433 1161.8,1433 1161.8,1438 1164.3,1438 1164.3,1443 1166.8,1443 1166.8,1447 1169.3,1447 1169.3,1451 1171.8,1451 1171.8,1455 1174.3,1455 1174.3,1458 1176.8,1458 1176.8,1462 1179.3,1462 1179.3,1465 1181.8,1465 1181.8,1468 1184.3,1468 1184.3,1471 1186.8,1471 1186.8,1473 1189.3,1473 1189.3,1475 1191.8,1475 1191.8,1476 1194.3,1476 1194.3,1478 1196.8,1478 1196.8,1479 1199.3,1479 1199.3,1481 1201.8,1481 1201.8,1482 1204.3,1482 1204.3,1484 1206.8,1484 1206.8,1485 1209.3,1485 1209.3,1486 1211.8,1486 1211.8,1487 1214.3,1487 1214.3,1488 1216.8,1488 1219.3,1488 1219.3,1489 1221.8,1489 1224,1489.2 1572.8,1489.2" fill="none" stroke="#fff" stroke-width="6" stroke-linejoin="miter"/>
<polygon points="940,1487.2 940,1266 942,1356 943.5,1385 945.3,1406.5 946.8,1396 949.3,1396 949.3,1382 951.8,1382 951.8,1368 954.3,1368 954.3,1354 956.8,1354 956.8,1343 959.3,1343 959.3,1332 961.8,1332 961.8,1320 964.3,1320 964.3,1311 966.8,1311 966.8,1304 969.3,1304 969.3,1295 971.8,1295 971.8,1285 974.3,1285 974.3,1274 976.8,1274 976.8,1262 979.3,1262 979.3,1243 981.8,1243 981.8,1224 984.3,1224 984.3,1213 986.8,1213 986.8,1204 989.3,1204 989.3,1194 991.8,1194 991.8,1181 994.3,1181 994.3,1165 996.8,1165 996.8,1145 999.3,1145 999.3,1120 1001.8,1120 1001.8,1098 1004.3,1098 1004.3,1074 1006.8,1074 1006.8,1067 1009.3,1067 1009.3,1065 1011.8,1065 1011.8,1068 1014.3,1068 1014.3,1070 1016.8,1070 1016.8,1068 1019.3,1068 1019.3,1051 1021.8,1051 1021.8,1040 1024.3,1040 1024.3,1029 1026.8,1029 1026.8,1014 1029.3,1014 1029.3,992 1031.8,992 1031.8,962 1034.3,962 1034.3,922 1036.8,922 1036.8,920 1039.3,920 1039.3,922 1041.8,922 1041.8,929 1044.3,929 1044.3,957 1046.8,957 1046.8,985 1049.3,985 1049.3,1018 1051.8,1018 1051.8,1044 1054.3,1044 1054.3,1056 1056.8,1056 1056.8,1052 1059.3,1052 1059.3,1044 1061.8,1044 1061.8,1038 1064.3,1038 1064.3,1052 1066.8,1052 1066.8,1068 1069.3,1068 1069.3,1081 1071.8,1081 1071.8,1094 1074.3,1094 1074.3,1106 1076.8,1106 1076.8,1116 1079.3,1116 1079.3,1126 1081.8,1126 1081.8,1136 1084.3,1136 1084.3,1145 1086.8,1145 1086.8,1154 1089.3,1154 1089.3,1164 1091.8,1164 1091.8,1178 1094.3,1178 1094.3,1186 1096.8,1186 1096.8,1196 1099.3,1196 1099.3,1207 1101.8,1207 1101.8,1222 1104.3,1222 1104.3,1237 1106.8,1237 1106.8,1245 1109.3,1245 1109.3,1250 1111.8,1250 1111.8,1253 1114.3,1253 1114.3,1255 1116.8,1255 1116.8,1266 1119.3,1266 1119.3,1286 1121.8,1286 1121.8,1305 1124.3,1305 1124.3,1321 1126.8,1321 1126.8,1331 1129.3,1331 1129.3,1337 1131.8,1337 1131.8,1344 1134.3,1344 1134.3,1353 1136.8,1353 1136.8,1364 1139.3,1364 1139.3,1376 1141.8,1376 1141.8,1388 1144.3,1388 1144.3,1397 1146.8,1397 1146.8,1406 1149.3,1406 1149.3,1414 1151.8,1414 1151.8,1420 1154.3,1420 1154.3,1424 1156.8,1424 1156.8,1428 1159.3,1428 1159.3,1433 1161.8,1433 1161.8,1438 1164.3,1438 1164.3,1443 1166.8,1443 1166.8,1447 1169.3,1447 1169.3,1451 1171.8,1451 1171.8,1455 1174.3,1455 1174.3,1458 1176.8,1458 1176.8,1462 1179.3,1462 1179.3,1465 1181.8,1465 1181.8,1468 1184.3,1468 1184.3,1471 1186.8,1471 1186.8,1473 1189.3,1473 1189.3,1475 1191.8,1475 1191.8,1476 1194.3,1476 1194.3,1478 1196.8,1478 1196.8,1479 1199.3,1479 1199.3,1481 1201.8,1481 1201.8,1482 1204.3,1482 1204.3,1484 1206.8,1484 1206.8,1485 1209.3,1485 1209.3,1486 1211.8,1486 1211.8,1487 1214.3,1487 1214.3,1488 1216.8,1488 1219.3,1488 1219.3,1489 1221.8,1489 1224,1489.2 1224,1487.2" fill="#efa0a3"/>
</g>
<polyline points="945.5,1490 956.5,1486 964.5,1483 972.5,1477 978.5,1469 983.1,1462 987.1,1452 992.5,1444 994.5,1435 997.5,1424 1002.1,1414 1004.5,1404 1005.5,1395 1007.1,1385 1009.5,1375 1012.1,1366 1014.5,1356 1015.1,1347 1017.1,1337 1017.1,1327 1019.5,1317 1019.5,1307 1022.1,1297 1022.1,1287 1023.5,1277 1025.1,1267 1027.1,1257 1027.1,1247 1029.5,1237 1030.1,1227 1032.1,1217 1032.1,1207 1034.5,1196 1036,1186 1037.5,1177 1039.5,1167 1040.5,1157 1042.5,1146 1044.5,1136 1045.5,1128 1047.1,1118 1048.5,1109 1049.5,1099 1049.5,1089 1052.5,1079 1052.5,1068 1055.1,1059 1056.5,1049 1057.5,1039 1060.1,1029 1060.1,1019 1062.1,1009 1062.1,999 1062.1,989 1064.5,978 1064.5,968 1067.5,959 1069.5,949 1072.5,938 1072.5,928 1075.1,921 1079.5,915 1085.5,903 1087.1,914 1089.5,923 1089.5,933 1092.5,944 1092.5,954 1095.1,964 1095.1,975 1097.1,984 1097.5,994 1098.5,1004 1100.1,1014 1102.1,1024 1103.1,1034 1103.1,1044 1105.1,1054 1105.1,1064 1105.1,1074 1106.1,1084 1107.5,1095 1107.5,1105 1107.5,1115 1107.5,1125 1107.5,1135 1108.5,1145 1110.1,1155 1110.1,1164 1110.1,1174 1110.1,1184 1110.1,1194 1111.1,1204 1112.1,1214 1112.1,1224 1112.1,1234 1113.5,1244 1115.1,1254 1116.5,1266 1117.5,1274 1117.5,1281 1120.1,1292 1120.1,1302 1122.5,1312 1122.5,1322 1125.1,1333 1125.1,1342 1127.5,1352 1127.5,1362 1130.1,1372 1132.5,1383 1135.1,1393 1137.5,1403 1140.1,1413 1142.5,1421 1143.5,1430 1146.5,1439 1151.5,1449 1155.5,1459 1159.5,1466 1167.5,1473 1175.5,1478 1183.5,1483 1191.5,1486.2 1202,1487.4" fill="none" stroke="none" marker-start="url(#m1)" marker-mid="url(#m1)" marker-end="url(#m1)"/>
<rect x="934.25" y="852.25" width="643.45" height="3.5" fill="#000"/>
<rect x="934.25" y="852.25" width="3.5" height="643.1" fill="#000"/>
<rect x="1571.8" y="852.25" width="5.9" height="643.1" fill="#000"/>
<rect x="934.25" y="1491.85" width="643.45" height="3.5" fill="#000"/>
<line x1="917.4" y1="1493.8" x2="936" y2="1493.8" stroke="#000" stroke-width="3.6" stroke-linecap="round"/>
<text class="t" transform="translate(890.67 1492.7) scale(0.8712 1.0000)">0</text>
<line x1="927.6" y1="1463.55" x2="936" y2="1463.55" stroke="#000" stroke-width="3.5" stroke-linecap="round"/>
<line x1="927.6" y1="1433.3" x2="936" y2="1433.3" stroke="#000" stroke-width="3.5" stroke-linecap="round"/>
<line x1="927.6" y1="1403.05" x2="936" y2="1403.05" stroke="#000" stroke-width="3.5" stroke-linecap="round"/>
<line x1="917.4" y1="1372.8" x2="936" y2="1372.8" stroke="#000" stroke-width="3.6" stroke-linecap="round"/>
<text class="t" transform="translate(873.54 1384) scale(0.8700 1.0000)" letter-spacing="1.96">20</text>
<line x1="927.6" y1="1342.55" x2="936" y2="1342.55" stroke="#000" stroke-width="3.5" stroke-linecap="round"/>
<line x1="927.6" y1="1312.3" x2="936" y2="1312.3" stroke="#000" stroke-width="3.5" stroke-linecap="round"/>
<line x1="927.6" y1="1282.05" x2="936" y2="1282.05" stroke="#000" stroke-width="3.5" stroke-linecap="round"/>
<line x1="917.4" y1="1251.8" x2="936" y2="1251.8" stroke="#000" stroke-width="3.6" stroke-linecap="round"/>
<text class="t" transform="translate(874.3 1263) scale(0.8700 1.0000)" letter-spacing="1.08">40</text>
<line x1="927.6" y1="1221.55" x2="936" y2="1221.55" stroke="#000" stroke-width="3.5" stroke-linecap="round"/>
<line x1="927.6" y1="1191.3" x2="936" y2="1191.3" stroke="#000" stroke-width="3.5" stroke-linecap="round"/>
<line x1="927.6" y1="1161.05" x2="936" y2="1161.05" stroke="#000" stroke-width="3.5" stroke-linecap="round"/>
<line x1="917.4" y1="1130.8" x2="936" y2="1130.8" stroke="#000" stroke-width="3.6" stroke-linecap="round"/>
<text class="t" transform="translate(873.54 1142) scale(0.8700 1.0000)" letter-spacing="1.96">60</text>
<line x1="927.6" y1="1100.55" x2="936" y2="1100.55" stroke="#000" stroke-width="3.5" stroke-linecap="round"/>
<line x1="927.6" y1="1070.3" x2="936" y2="1070.3" stroke="#000" stroke-width="3.5" stroke-linecap="round"/>
<line x1="927.6" y1="1040.05" x2="936" y2="1040.05" stroke="#000" stroke-width="3.5" stroke-linecap="round"/>
<line x1="917.4" y1="1009.8" x2="936" y2="1009.8" stroke="#000" stroke-width="3.6" stroke-linecap="round"/>
<text class="t" transform="translate(873.76 1021) scale(0.8700 1.0000)" letter-spacing="1.71">80</text>
<line x1="927.6" y1="979.55" x2="936" y2="979.55" stroke="#000" stroke-width="3.5" stroke-linecap="round"/>
<line x1="927.6" y1="949.3" x2="936" y2="949.3" stroke="#000" stroke-width="3.5" stroke-linecap="round"/>
<line x1="927.6" y1="919.05" x2="936" y2="919.05" stroke="#000" stroke-width="3.5" stroke-linecap="round"/>
<line x1="917.4" y1="888.8" x2="936" y2="888.8" stroke="#000" stroke-width="3.6" stroke-linecap="round"/>
<text class="t" transform="translate(855.09 900) scale(0.8700 1.0000)" letter-spacing="2.65">100</text>
<line x1="927.6" y1="856.2" x2="936" y2="856.2" stroke="#000" stroke-width="3.5" stroke-linecap="round"/>
<line x1="936" y1="1493.6" x2="936" y2="1511.6" stroke="#000" stroke-width="3.7" stroke-linecap="round"/>
<line x1="983.96" y1="1493.6" x2="983.96" y2="1501.6" stroke="#000" stroke-width="3.5" stroke-linecap="round"/>
<line x1="1012.02" y1="1493.6" x2="1012.02" y2="1501.6" stroke="#000" stroke-width="3.5" stroke-linecap="round"/>
<line x1="1031.92" y1="1493.6" x2="1031.92" y2="1501.6" stroke="#000" stroke-width="3.5" stroke-linecap="round"/>
<line x1="1047.36" y1="1493.6" x2="1047.36" y2="1506.2" stroke="#000" stroke-width="3.5" stroke-linecap="round"/>
<line x1="1059.98" y1="1493.6" x2="1059.98" y2="1501.6" stroke="#000" stroke-width="3.5" stroke-linecap="round"/>
<line x1="1070.65" y1="1493.6" x2="1070.65" y2="1501.6" stroke="#000" stroke-width="3.5" stroke-linecap="round"/>
<line x1="1079.88" y1="1493.6" x2="1079.88" y2="1501.6" stroke="#000" stroke-width="3.5" stroke-linecap="round"/>
<line x1="1088.03" y1="1493.6" x2="1088.03" y2="1501.6" stroke="#000" stroke-width="3.5" stroke-linecap="round"/>
<line x1="1095.33" y1="1493.6" x2="1095.33" y2="1511.6" stroke="#000" stroke-width="3.7" stroke-linecap="round"/>
<line x1="1143.29" y1="1493.6" x2="1143.29" y2="1501.6" stroke="#000" stroke-width="3.5" stroke-linecap="round"/>
<line x1="1171.34" y1="1493.6" x2="1171.34" y2="1501.6" stroke="#000" stroke-width="3.5" stroke-linecap="round"/>
<line x1="1191.25" y1="1493.6" x2="1191.25" y2="1501.6" stroke="#000" stroke-width="3.5" stroke-linecap="round"/>
<line x1="1206.69" y1="1493.6" x2="1206.69" y2="1506.2" stroke="#000" stroke-width="3.5" stroke-linecap="round"/>
<line x1="1219.3" y1="1493.6" x2="1219.3" y2="1501.6" stroke="#000" stroke-width="3.5" stroke-linecap="round"/>
<line x1="1229.97" y1="1493.6" x2="1229.97" y2="1501.6" stroke="#000" stroke-width="3.5" stroke-linecap="round"/>
<line x1="1239.21" y1="1493.6" x2="1239.21" y2="1501.6" stroke="#000" stroke-width="3.5" stroke-linecap="round"/>
<line x1="1247.36" y1="1493.6" x2="1247.36" y2="1501.6" stroke="#000" stroke-width="3.5" stroke-linecap="round"/>
<line x1="1254.65" y1="1493.6" x2="1254.65" y2="1511.6" stroke="#000" stroke-width="3.7" stroke-linecap="round"/>
<line x1="1302.61" y1="1493.6" x2="1302.61" y2="1501.6" stroke="#000" stroke-width="3.5" stroke-linecap="round"/>
<line x1="1330.67" y1="1493.6" x2="1330.67" y2="1501.6" stroke="#000" stroke-width="3.5" stroke-linecap="round"/>
<line x1="1350.57" y1="1493.6" x2="1350.57" y2="1501.6" stroke="#000" stroke-width="3.5" stroke-linecap="round"/>
<line x1="1366.01" y1="1493.6" x2="1366.01" y2="1506.2" stroke="#000" stroke-width="3.5" stroke-linecap="round"/>
<line x1="1378.63" y1="1493.6" x2="1378.63" y2="1501.6" stroke="#000" stroke-width="3.5" stroke-linecap="round"/>
<line x1="1389.3" y1="1493.6" x2="1389.3" y2="1501.6" stroke="#000" stroke-width="3.5" stroke-linecap="round"/>
<line x1="1398.53" y1="1493.6" x2="1398.53" y2="1501.6" stroke="#000" stroke-width="3.5" stroke-linecap="round"/>
<line x1="1406.68" y1="1493.6" x2="1406.68" y2="1501.6" stroke="#000" stroke-width="3.5" stroke-linecap="round"/>
<line x1="1413.97" y1="1493.6" x2="1413.97" y2="1511.6" stroke="#000" stroke-width="3.7" stroke-linecap="round"/>
<line x1="1461.94" y1="1493.6" x2="1461.94" y2="1501.6" stroke="#000" stroke-width="3.5" stroke-linecap="round"/>
<line x1="1489.99" y1="1493.6" x2="1489.99" y2="1501.6" stroke="#000" stroke-width="3.5" stroke-linecap="round"/>
<line x1="1509.9" y1="1493.6" x2="1509.9" y2="1501.6" stroke="#000" stroke-width="3.5" stroke-linecap="round"/>
<line x1="1525.34" y1="1493.6" x2="1525.34" y2="1506.2" stroke="#000" stroke-width="3.5" stroke-linecap="round"/>
<line x1="1537.95" y1="1493.6" x2="1537.95" y2="1501.6" stroke="#000" stroke-width="3.5" stroke-linecap="round"/>
<line x1="1548.62" y1="1493.6" x2="1548.62" y2="1501.6" stroke="#000" stroke-width="3.5" stroke-linecap="round"/>
<line x1="1557.86" y1="1493.6" x2="1557.86" y2="1501.6" stroke="#000" stroke-width="3.5" stroke-linecap="round"/>
<line x1="1566.01" y1="1493.6" x2="1566.01" y2="1501.6" stroke="#000" stroke-width="3.5" stroke-linecap="round"/>
<line x1="1573.3" y1="1493.6" x2="1573.3" y2="1511.6" stroke="#000" stroke-width="3.7" stroke-linecap="round"/>
<text class="t" transform="translate(944.79 1556.6) scale(0.8700 1.0000)" letter-spacing="3.28">10</text>
<text class="t" transform="translate(981.4 1534.4) scale(0.8344 1.0000)">0</text>
<text class="t" transform="translate(1079.29 1556.6) scale(0.8700 1.0000)" letter-spacing="3.51">10</text>
<text class="t" transform="translate(1115.38 1534.4) scale(0.6030 1.0000)">1</text>
<text class="t" transform="translate(1231.99 1556.6) scale(0.8700 1.0000)" letter-spacing="3.86">10</text>
<text class="t" transform="translate(1268 1534.4) scale(0.9059 1.0000)">2</text>
<text class="t" transform="translate(1379.69 1556.6) scale(0.8700 1.0000)" letter-spacing="3.4">10</text>
<text class="t" transform="translate(1416.16 1534.4) scale(0.8779 1.0000)">3</text>
<text class="t" transform="translate(1531.89 1556.6) scale(0.8700 1.0000)" letter-spacing="2.82">10</text>
<text class="t" transform="translate(1568.83 1534.4) scale(0.7569 1.0000)">4</text>
<text class="t" xml:space="preserve" transform="translate(0 1589.4) scale(0.8700 1.0000)"><tspan x="1313.65" letter-spacing="1.51">FL2-H:: </tspan><tspan x="1439.13" letter-spacing="2.24">CD34 </tspan><tspan x="1538.24" letter-spacing="1.69">PE</tspan></text>
<text class="t" transform="translate(853.7 1219.36) rotate(-90) scale(0.8700 1.0000)" letter-spacing="1.97">Count</text>
<line x1="937.5" y1="973.7" x2="1168" y2="973.7" stroke="#000" stroke-width="3.5" stroke-linecap="butt"/>
<line x1="1168" y1="961.3" x2="1168" y2="986.1" stroke="#000" stroke-width="3.3" stroke-linecap="round"/>
<line x1="1168" y1="940.9" x2="1572" y2="940.9" stroke="#000" stroke-width="3.5" stroke-linecap="butt"/>
<line x1="1168" y1="928.5" x2="1168" y2="953.3" stroke="#000" stroke-width="3.3" stroke-linecap="round"/>
<text class="t" transform="translate(946.57 887.5) scale(0.8700 1.0000)" letter-spacing="1.75">FL2-H-</text>
<text class="t" transform="translate(947.55 927.8) scale(0.8700 1.0000)" letter-spacing="1.93">98.8%</text>
<text class="t" transform="translate(1459.27 887.5) scale(0.8700 1.0000)" letter-spacing="1.85">FL2-H+</text>
<text class="t" transform="translate(1460.39 927.8) scale(0.8700 1.0000)" letter-spacing="1.89">1.22%</text>
</g>
</svg></body></html>
